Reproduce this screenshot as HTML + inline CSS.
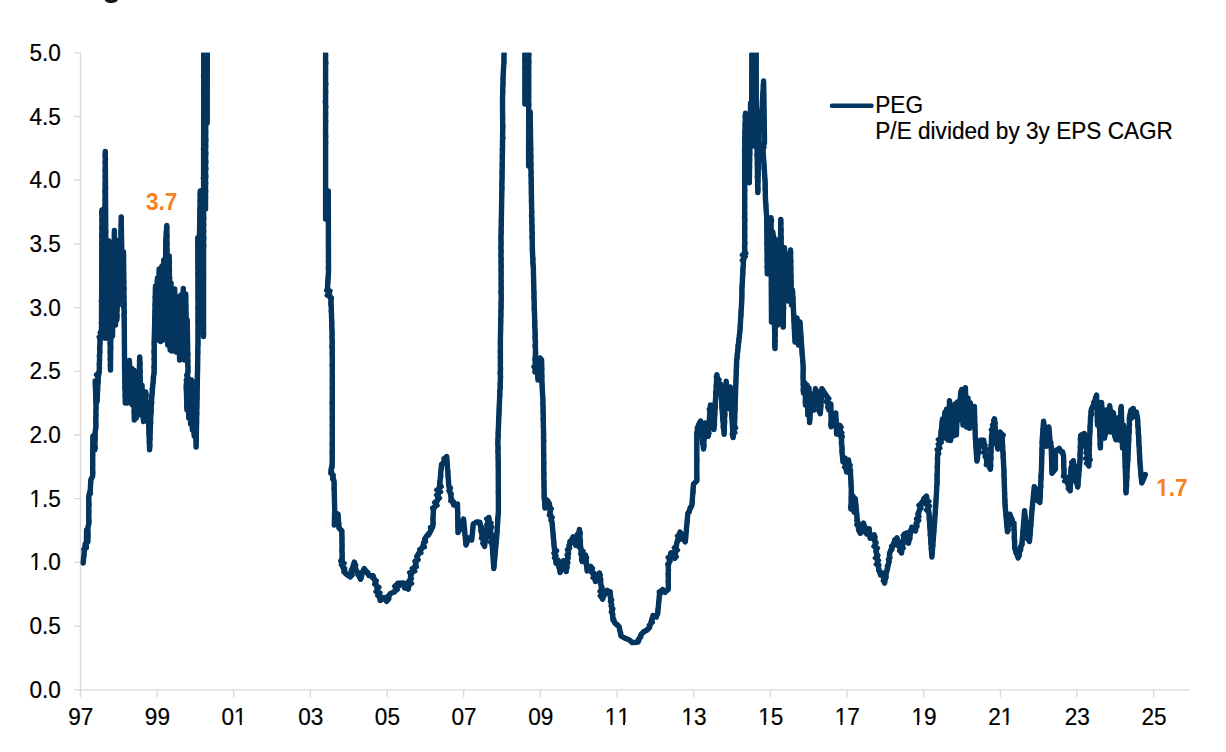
<!DOCTYPE html>
<html><head><meta charset="utf-8"><title>PEG</title>
<style>
html,body{margin:0;padding:0;background:#fff;}
body{width:1226px;height:752px;overflow:hidden;}
svg{display:block}
text{font-family:"Liberation Sans",Arial,Helvetica,sans-serif;font-kerning:none;}
.t{font-size:22.6px;fill:#000;stroke:#000;stroke-width:0.2px}
.o{font-size:22.6px;font-weight:bold;fill:#f5821f}
.fb{font-weight:normal;stroke:#f5821f;stroke-width:1.25px;stroke-linejoin:round}
.ttl{font-size:30px;font-weight:bold;fill:#111}
</style></head><body>
<svg width="1226" height="752" viewBox="0 0 1226 752">
<defs><clipPath id="c"><rect x="70" y="52.8" width="1140" height="640"/></clipPath><clipPath id="k0"><path clip-rule="evenodd" d="M24.4 540.4H65.8V580.4H24.4ZM29.39 568.09H35.11V573.4H29.39ZM37.00 568.09H41.93V573.4H37.00Z"/></clipPath><clipPath id="k1"><path clip-rule="evenodd" d="M24.4 476.7H65.8V516.7H24.4ZM29.39 504.39H35.11V509.7H29.39ZM37.00 504.39H41.93V509.7H37.00Z"/></clipPath><clipPath id="k2"><path clip-rule="evenodd" d="M216.5 694.9H251.6V734.9H216.5ZM234.07 722.59H239.79V727.9H234.07ZM241.68 722.59H246.61V727.9H241.68Z"/></clipPath><clipPath id="k3"><path clip-rule="evenodd" d="M599.8 694.9H634.9V734.9H599.8ZM604.80 722.59H610.53V727.9H604.80ZM612.42 722.59H617.35V727.9H612.42ZM617.37 722.59H623.09V727.9H617.37ZM624.98 722.59H629.91V727.9H624.98Z"/></clipPath><clipPath id="k4"><path clip-rule="evenodd" d="M676.5 694.9H711.6V734.9H676.5ZM681.46 722.59H687.19V727.9H681.46ZM689.08 722.59H694.01V727.9H689.08Z"/></clipPath><clipPath id="k5"><path clip-rule="evenodd" d="M753.1 694.9H788.3V734.9H753.1ZM758.12 722.59H763.85V727.9H758.12ZM765.74 722.59H770.67V727.9H765.74Z"/></clipPath><clipPath id="k6"><path clip-rule="evenodd" d="M829.8 694.9H864.9V734.9H829.8ZM834.78 722.59H840.51V727.9H834.78ZM842.40 722.59H847.33V727.9H842.40Z"/></clipPath><clipPath id="k7"><path clip-rule="evenodd" d="M906.4 694.9H941.6V734.9H906.4ZM911.44 722.59H917.17V727.9H911.44ZM919.06 722.59H923.99V727.9H919.06Z"/></clipPath><clipPath id="k8"><path clip-rule="evenodd" d="M983.1 694.9H1018.2V734.9H983.1ZM1000.67 722.59H1006.39V727.9H1000.67ZM1008.28 722.59H1013.21V727.9H1008.28Z"/></clipPath><clipPath id="k9"><path clip-rule="evenodd" d="M1151.2 465.8H1192.6V505.8H1151.2ZM1155.75 492.84H1161.52V498.8H1155.75ZM1164.51 492.84H1169.31V498.8H1164.51Z"/></clipPath></defs>
<text x="102.5" y="-3.2" class="ttl">g</text>
<path d="M80.5 52.8V689.8M74.2 689.8H1190M74.2 689.8H80.5M74.2 626.1H80.5M74.2 562.4H80.5M74.2 498.7H80.5M74.2 435.0H80.5M74.2 371.3H80.5M74.2 307.6H80.5M74.2 243.9H80.5M74.2 180.2H80.5M74.2 116.5H80.5M74.2 52.8H80.5M80.5 689.8V697.3M157.1 689.8V697.3M233.8 689.8V697.3M310.4 689.8V697.3M387.1 689.8V697.3M463.7 689.8V697.3M540.4 689.8V697.3M617.1 689.8V697.3M693.7 689.8V697.3M770.4 689.8V697.3M847.0 689.8V697.3M923.7 689.8V697.3M1000.4 689.8V697.3M1077.0 689.8V697.3M1153.7 689.8V697.3" fill="none" stroke="#d9d9d9" stroke-width="1.3"/>
<text transform="translate(60.8 697.8) scale(1 1.08)" text-anchor="end" class="t">0.0</text>
<text transform="translate(60.8 634.1) scale(1 1.08)" text-anchor="end" class="t">0.5</text>
<g clip-path="url(#k0)"><text transform="translate(60.8 570.4) scale(1 1.08)" text-anchor="end" class="t">1.0</text></g>
<g clip-path="url(#k1)"><text transform="translate(60.8 506.7) scale(1 1.08)" text-anchor="end" class="t">1.5</text></g>
<text transform="translate(60.8 443.0) scale(1 1.08)" text-anchor="end" class="t">2.0</text>
<text transform="translate(60.8 379.3) scale(1 1.08)" text-anchor="end" class="t">2.5</text>
<text transform="translate(60.8 315.6) scale(1 1.08)" text-anchor="end" class="t">3.0</text>
<text transform="translate(60.8 251.9) scale(1 1.08)" text-anchor="end" class="t">3.5</text>
<text transform="translate(60.8 188.2) scale(1 1.08)" text-anchor="end" class="t">4.0</text>
<text transform="translate(60.8 124.5) scale(1 1.08)" text-anchor="end" class="t">4.5</text>
<text transform="translate(60.8 60.8) scale(1 1.08)" text-anchor="end" class="t">5.0</text>
<text transform="translate(80.8 724.9) scale(1 1.08)" text-anchor="middle" class="t">97</text>
<text transform="translate(157.4 724.9) scale(1 1.08)" text-anchor="middle" class="t">99</text>
<g clip-path="url(#k2)"><text transform="translate(234.1 724.9) scale(1 1.08)" text-anchor="middle" class="t">01</text></g>
<text transform="translate(310.7 724.9) scale(1 1.08)" text-anchor="middle" class="t">03</text>
<text transform="translate(387.4 724.9) scale(1 1.08)" text-anchor="middle" class="t">05</text>
<text transform="translate(464.0 724.9) scale(1 1.08)" text-anchor="middle" class="t">07</text>
<text transform="translate(540.7 724.9) scale(1 1.08)" text-anchor="middle" class="t">09</text>
<g clip-path="url(#k3)"><text transform="translate(617.4 724.9) scale(1 1.08)" text-anchor="middle" class="t">11</text></g>
<g clip-path="url(#k4)"><text transform="translate(694.0 724.9) scale(1 1.08)" text-anchor="middle" class="t">13</text></g>
<g clip-path="url(#k5)"><text transform="translate(770.7 724.9) scale(1 1.08)" text-anchor="middle" class="t">15</text></g>
<g clip-path="url(#k6)"><text transform="translate(847.3 724.9) scale(1 1.08)" text-anchor="middle" class="t">17</text></g>
<g clip-path="url(#k7)"><text transform="translate(924.0 724.9) scale(1 1.08)" text-anchor="middle" class="t">19</text></g>
<g clip-path="url(#k8)"><text transform="translate(1000.7 724.9) scale(1 1.08)" text-anchor="middle" class="t">21</text></g>
<text transform="translate(1077.3 724.9) scale(1 1.08)" text-anchor="middle" class="t">23</text>
<text transform="translate(1154.0 724.9) scale(1 1.08)" text-anchor="middle" class="t">25</text>
<g clip-path="url(#c)" fill="none" stroke="#03355f" stroke-width="4.5" stroke-linejoin="round" stroke-linecap="round">
<polyline points="83.2,563.0 83.2,558.5 84.3,555.5 84.2,552.0 83.4,549.0 85.9,547.2 85.2,544.0 86.3,548.0 86.0,544.0 86.7,540.0 86.2,537.8 86.8,534.4 86.6,530.0 87.5,531.5 86.4,535.5 88.3,537.1 86.6,539.3 87.9,542.0 87.4,537.6 88.3,535.0 87.7,530.3 88.0,527.0 88.8,524.0 89.3,520.2 88.2,516.9 89.3,512.1 88.3,508.8 89.5,504.4 88.4,499.2 88.8,496.0 90.9,493.8 90.3,490.0 90.3,484.5 90.8,480.0 92.7,476.0 93.1,472.1 92.4,468.7 92.9,464.1 92.5,459.2 93.0,455.3 92.7,452.0 92.6,447.4 93.1,443.1 92.7,439.5 93.0,436.0 92.5,438.1 94.6,441.0 93.2,444.4 95.8,447.2 94.8,450.0 95.2,447.0 94.3,443.2 95.6,438.4 94.6,434.9 95.2,432.0 95.8,428.0 96.2,424.7 95.4,420.5 96.2,415.4 95.6,412.6 96.3,408.5 96.0,404.0 95.3,400.0 96.3,396.8 95.4,392.6 95.7,388.9 95.2,385.1 95.2,381.0 95.1,385.5 96.3,388.7 96.2,394.4 97.0,396.9 97.0,402.0 97.6,397.6 96.9,394.7 98.0,389.3 97.4,385.5 98.5,381.7 98.2,378.0 96.0,374.7 99.2,372.0 100.0,367.9 98.9,363.8 99.9,359.8 98.9,355.6 100.3,351.9 99.1,348.7 100.3,343.8 100.0,340.0 98.7,336.9 103.2,334.6 99.8,332.7 101.5,330.0 102.0,327.0 100.9,322.8 102.1,318.8 101.1,314.9 102.3,312.0 101.1,308.8 102.3,303.9 100.9,301.3 102.1,297.7 101.3,293.4 102.0,289.4 101.2,287.1 102.2,283.6 101.2,279.4 102.1,276.1 101.4,271.2 102.1,269.0 101.3,264.3 102.4,260.1 101.3,257.3 102.2,253.7 101.4,250.4 102.4,246.3 101.2,242.9 102.6,239.8 101.2,236.1 102.5,231.1 101.4,227.5 102.7,224.6 101.5,220.5 102.6,216.9 101.3,212.8 102.0,210.0 101.4,214.2 102.7,218.0 101.7,220.9 102.7,224.7 101.7,227.6 102.5,231.8 101.8,235.1 102.9,240.0 101.5,243.1 102.7,246.3 101.8,250.9 102.9,254.7 101.9,257.6 103.1,260.9 101.7,265.2 102.9,268.9 101.9,271.7 103.1,276.0 102.0,279.8 103.0,283.6 101.9,288.0 103.1,290.2 102.1,295.3 103.1,297.7 102.1,301.3 103.2,305.0 102.2,308.9 103.3,312.2 102.5,316.6 103.3,320.3 102.5,323.8 103.3,327.1 102.4,331.4 103.0,335.0 102.4,330.7 103.7,327.2 102.6,324.4 103.6,319.5 102.7,317.2 103.7,313.9 102.7,309.0 103.7,305.5 103.0,301.9 103.9,299.2 102.8,294.9 103.8,292.0 103.1,287.5 103.9,284.6 103.2,279.7 104.1,277.4 103.1,273.1 104.0,269.4 103.2,265.6 104.0,261.5 103.5,258.0 103.9,255.4 103.6,250.5 104.1,246.9 103.5,243.7 104.3,239.7 103.5,236.1 104.3,233.1 103.4,228.9 104.6,225.8 104.0,222.0 104.4,225.3 103.7,229.0 104.7,232.4 103.4,236.2 104.7,240.2 103.4,244.0 104.8,248.2 103.6,251.4 104.5,253.8 103.9,257.5 104.5,262.0 103.8,265.6 104.6,269.7 103.9,273.2 104.5,275.8 104.1,280.0 104.4,284.4 104.0,287.4 104.5,291.2 104.1,294.9 104.5,297.7 104.2,302.2 104.6,305.8 104.1,309.8 104.7,312.5 104.1,315.8 104.7,320.3 104.1,324.1 104.6,327.3 104.3,329.9 104.7,334.3 104.5,338.0 104.8,334.8 104.2,330.2 105.0,326.2 104.2,324.1 105.1,319.5 104.2,315.7 105.1,312.2 104.2,309.2 105.4,304.4 104.3,301.8 105.2,298.5 104.4,294.9 105.2,290.2 104.3,287.3 105.2,282.5 104.5,278.9 105.2,276.4 104.5,271.6 105.1,267.6 104.5,264.4 105.2,261.4 104.5,258.3 105.1,253.9 104.6,249.7 105.1,246.3 104.7,242.5 105.2,239.9 104.7,235.8 105.2,231.8 104.5,227.5 105.4,225.0 104.8,220.2 105.3,217.6 104.7,213.9 105.3,209.9 104.7,205.7 105.4,202.2 104.7,199.9 105.6,195.3 104.5,191.2 105.6,187.6 104.9,184.0 105.5,180.5 104.8,176.8 105.5,173.0 104.8,170.0 105.6,165.8 105.0,162.1 105.7,159.0 104.8,154.5 105.3,151.5 104.7,155.9 106.0,158.9 104.7,162.3 105.8,166.6 104.9,169.2 105.9,173.1 105.0,176.8 106.0,181.2 105.2,184.3 106.0,187.2 105.3,191.2 105.8,195.6 105.4,198.6 105.8,202.4 105.3,206.3 105.9,210.8 105.4,214.5 105.8,216.5 105.3,220.8 106.0,224.2 105.2,227.8 106.1,231.7 105.3,235.8 106.0,238.9 105.4,243.0 106.2,246.2 105.6,250.7 106.1,254.5 105.6,257.1 106.2,261.2 105.4,265.0 106.3,269.0 105.4,271.4 106.4,275.9 105.6,280.1 106.4,282.4 105.6,287.2 106.5,289.7 105.7,295.0 106.6,296.9 105.6,301.0 106.5,304.2 105.5,308.2 106.7,312.2 105.7,315.8 106.8,319.3 105.7,323.1 106.8,327.4 105.6,330.0 106.6,334.7 106.3,338.0 106.7,334.5 105.8,331.3 106.8,327.5 106.1,322.4 107.0,319.1 105.9,315.9 107.1,312.8 106.1,307.4 107.3,304.3 106.4,301.1 107.1,297.3 106.3,292.8 107.3,289.2 106.3,286.2 107.4,281.8 106.4,278.1 107.5,274.0 106.6,271.8 107.7,267.0 106.6,263.8 107.6,259.0 106.8,256.1 107.7,252.9 106.7,248.1 107.4,245.0 107.1,249.3 108.0,252.0 106.9,255.6 107.9,259.0 107.0,264.4 108.0,267.6 107.2,271.2 108.0,274.2 107.3,278.3 108.2,282.2 107.2,285.6 108.2,289.9 107.2,293.5 108.3,297.3 107.3,301.3 108.6,305.1 107.4,308.1 108.7,312.0 107.5,316.4 108.4,319.8 107.4,323.3 108.6,327.0 107.8,330.5 108.6,333.5 108.2,338.0 108.7,334.7 107.8,331.0 108.7,326.0 107.8,323.2 108.7,318.9 107.7,316.3 108.8,311.8 108.0,308.6 108.9,305.2 107.7,300.9 109.0,297.8 107.9,293.6 109.1,288.6 108.2,286.1 109.2,282.6 108.0,278.4 109.2,273.7 108.2,271.4 109.0,267.8 108.2,262.7 109.3,260.3 108.0,256.0 109.1,252.5 108.3,249.0 109.3,244.2 108.8,241.0 109.3,245.4 108.5,248.0 109.6,251.6 108.6,256.6 109.6,259.5 108.6,262.7 109.6,266.1 108.8,270.0 109.5,273.6 108.8,277.0 109.8,281.3 108.9,284.7 110.0,288.7 108.9,292.6 110.2,296.6 108.9,299.4 110.1,303.8 109.2,307.8 110.4,310.5 109.3,314.9 110.2,318.6 109.3,322.8 110.3,324.9 109.5,329.4 110.5,332.4 109.5,336.9 110.6,339.9 109.8,343.9 110.8,347.5 109.8,352.2 110.7,354.6 109.7,359.5 110.8,362.4 110.0,365.5 110.5,370.0 110.1,365.4 110.8,362.1 110.4,358.2 110.8,355.5 110.5,352.3 111.1,347.3 110.5,343.9 111.0,339.5 110.6,335.7 111.0,333.1 110.6,329.5 111.3,325.3 110.5,322.0 111.4,317.6 110.6,314.9 111.4,311.2 110.7,307.3 111.6,302.9 110.7,299.7 111.6,296.1 111.0,292.7 111.4,287.6 111.0,284.9 111.6,281.2 111.0,276.5 111.5,273.8 111.1,270.2 111.7,266.9 111.2,263.2 111.7,259.6 111.5,255.0 111.8,258.8 111.3,261.9 111.9,265.4 111.5,270.1 111.9,274.1 111.6,276.8 112.0,279.9 111.6,285.0 112.2,288.4 111.6,292.2 112.7,296.2 111.5,298.4 112.5,302.1 111.8,306.5 112.5,310.0 112.0,314.2 112.5,317.3 112.1,321.4 112.7,325.3 112.2,328.4 112.7,331.5 112.5,336.0 112.8,332.4 112.4,329.6 113.0,325.0 112.5,322.0 113.1,317.0 112.7,313.4 113.3,310.3 112.8,307.3 113.5,303.5 112.8,300.3 113.6,296.2 112.8,292.9 113.9,289.2 113.0,285.3 113.8,281.2 113.2,277.7 114.2,274.5 113.2,270.8 114.2,266.6 113.1,263.8 114.4,259.5 113.5,255.5 114.5,252.8 113.7,248.7 114.4,245.8 113.8,242.1 114.6,237.8 114.1,233.5 114.4,230.5 114.3,234.2 114.8,238.2 114.3,241.1 114.8,245.7 114.3,248.5 115.0,252.9 114.4,255.7 115.1,259.0 114.4,264.0 115.2,267.2 114.4,270.3 115.6,273.3 114.5,276.9 115.6,282.3 114.6,284.2 115.5,288.4 114.7,292.9 115.5,296.1 114.7,299.4 115.7,303.7 115.0,306.1 115.7,310.4 115.0,313.2 115.7,318.0 115.2,321.3 115.5,325.0 115.3,322.1 115.9,317.8 115.4,313.8 115.9,309.3 115.4,305.7 116.0,302.4 115.4,299.1 116.4,294.1 115.3,290.8 116.1,288.1 115.7,284.0 116.3,280.0 115.8,275.4 116.3,271.9 115.8,268.9 116.6,264.5 115.8,260.4 116.7,258.0 115.9,253.6 116.3,250.0 115.9,253.5 117.0,257.1 115.9,260.7 116.9,264.0 115.8,267.9 117.1,272.4 116.1,275.1 116.9,278.6 116.1,282.8 117.2,286.3 116.1,291.0 117.2,294.1 116.2,297.7 117.1,301.2 115.9,304.9 117.2,309.8 116.3,312.4 117.1,316.5 116.8,320.0 117.5,316.1 116.3,313.3 117.6,309.0 116.5,305.3 117.6,301.3 116.8,297.5 117.7,293.8 116.8,290.3 118.0,286.9 116.6,283.0 117.9,278.3 117.0,274.8 118.3,271.1 117.6,268.0 118.3,272.6 117.2,275.8 118.4,279.0 117.4,282.3 118.4,285.7 117.7,290.2 118.6,294.5 117.9,298.3 118.8,301.1 118.5,305.0 118.8,301.7 118.1,298.5 119.0,293.5 118.2,291.3 119.2,286.7 118.2,283.9 119.4,280.6 118.5,275.9 119.5,272.2 118.8,268.5 119.4,266.0 118.6,261.9 119.8,257.7 118.8,254.8 119.7,250.6 118.8,247.4 119.9,242.8 119.5,240.0 120.0,243.3 119.2,248.1 120.1,251.5 119.2,254.7 120.1,258.6 119.4,262.0 120.1,265.8 119.4,269.4 120.0,274.3 119.6,277.1 120.3,281.2 119.7,285.5 120.2,288.3 119.6,292.0 120.0,296.0 119.5,293.1 120.5,288.7 119.8,284.4 120.8,280.1 119.8,276.6 121.0,272.5 119.9,269.8 120.9,265.0 120.1,262.8 121.0,259.1 120.3,254.4 121.0,250.3 120.2,247.8 121.1,242.7 120.2,240.4 121.4,235.8 120.5,232.4 121.3,228.2 120.9,224.5 121.5,221.2 121.2,217.0 121.4,220.3 121.1,224.5 121.6,229.0 121.1,232.2 121.8,236.5 121.2,238.8 121.9,243.9 121.5,247.3 121.9,250.6 121.4,255.4 122.1,257.8 121.8,263.1 122.2,266.4 121.6,270.0 122.5,273.5 121.9,277.0 122.5,281.2 122.3,285.0 122.6,281.4 122.3,278.4 122.9,274.2 122.7,270.6 123.2,267.2 122.8,263.9 123.5,260.2 123.0,255.9 123.5,252.0 123.2,255.4 123.9,259.1 123.3,263.6 123.8,266.4 123.4,270.4 124.0,273.9 123.5,278.9 124.2,281.4 123.2,285.7 124.4,288.3 123.5,293.6 124.3,297.3 123.4,299.4 124.6,304.3 123.3,307.0 124.7,311.9 123.6,315.0 124.6,319.3 124.0,323.2 124.7,325.6 124.3,330.0 124.1,334.5 124.7,336.7 124.1,341.5 124.7,344.5 124.2,348.0 124.8,351.8 124.2,356.0 124.8,358.5 124.3,362.5 124.8,366.5 124.6,370.0 124.5,373.8 125.0,377.5 124.4,380.7 125.2,384.2 124.5,387.9 125.4,391.8 124.8,395.9 125.7,400.1 125.3,403.0 125.8,399.6 125.3,395.6 126.1,391.0 125.3,387.8 126.6,383.2 125.8,379.2 126.7,375.8 126.5,372.0 127.0,376.3 126.1,380.5 127.4,384.4 126.5,388.2 127.6,390.9 126.8,394.8 127.7,398.5 127.5,403.0 127.9,399.6 127.4,394.7 128.1,391.0 127.6,387.4 128.4,383.3 127.8,381.0 128.6,375.9 127.9,372.8 129.0,368.8 128.5,365.0 129.4,360.5 129.9,363.9 129.2,369.0 130.1,372.8 129.3,375.3 130.4,380.5 129.5,382.9 130.5,388.4 129.7,391.9 130.6,395.3 130.1,398.9 130.5,403.0 130.4,398.7 131.0,396.0 130.5,390.5 131.2,387.8 130.8,382.8 131.7,378.9 130.6,376.6 131.9,371.6 131.5,368.0 132.2,372.5 131.3,376.2 132.0,379.8 131.6,382.0 132.5,386.5 131.5,390.8 132.5,394.4 131.7,397.5 132.8,400.4 132.5,405.0 133.1,401.0 132.3,396.9 133.3,392.7 132.6,389.9 133.6,385.9 132.7,382.1 133.6,377.1 133.1,374.2 133.5,370.0 133.3,374.2 133.9,376.9 133.4,381.0 134.2,385.1 133.4,390.1 134.1,393.6 133.6,397.5 134.3,400.9 133.7,405.2 134.4,408.2 133.9,411.7 134.5,417.0 134.3,420.0 134.7,415.5 134.2,411.8 134.7,408.6 134.3,404.4 135.0,402.2 134.4,398.6 135.0,395.0 134.7,391.1 135.2,386.7 134.8,382.3 135.3,380.2 135.0,374.9 135.3,372.0 135.2,375.5 135.7,380.2 135.2,383.7 136.0,386.8 134.9,390.3 136.3,394.2 135.4,399.3 136.2,402.2 135.5,406.8 136.4,409.5 135.8,413.7 136.2,418.0 135.8,414.2 136.8,410.6 135.8,406.7 137.0,403.0 136.1,398.1 137.3,395.7 135.9,391.6 137.3,387.9 136.5,382.8 137.3,379.5 137.0,376.0 137.5,379.8 136.6,383.4 137.7,386.9 136.9,391.1 137.8,394.8 137.1,398.3 137.9,403.0 137.4,406.8 137.8,410.0 137.7,405.8 138.4,400.9 138.1,397.9 138.8,393.6 138.5,388.6 138.8,385.0 139.4,380.3 138.7,376.6 139.7,373.6 138.9,369.4 139.9,365.0 139.0,360.8 139.8,357.0 139.1,360.9 140.5,363.5 139.3,367.5 140.7,372.0 139.5,374.5 140.7,379.4 139.7,383.1 141.2,386.2 139.9,389.4 140.9,393.8 140.2,397.4 141.1,400.2 140.5,404.4 141.4,407.4 140.2,411.0 141.0,415.0 140.5,410.4 141.7,407.9 140.8,404.6 142.1,400.1 141.1,396.8 142.2,392.8 141.5,389.0 142.0,385.0 141.5,388.9 142.7,391.8 141.8,395.3 143.1,400.1 142.3,404.1 143.4,407.0 142.4,410.0 143.6,413.6 142.9,418.3 143.5,421.5 143.2,416.7 144.6,413.0 143.7,408.6 145.1,405.1 144.6,400.0 143.5,396.8 146.6,395.0 145.7,392.0 146.4,395.4 145.4,399.5 146.5,402.2 145.9,405.6 146.6,410.1 146.3,414.4 146.9,417.0 146.8,421.0 147.3,417.4 147.1,413.0 148.0,408.3 148.0,405.0 148.4,409.1 148.1,412.3 148.6,416.4 148.4,420.4 148.9,424.3 148.6,428.1 149.3,430.9 148.6,434.4 149.8,438.8 148.9,442.5 150.0,446.0 149.6,449.7 150.2,445.6 149.5,441.8 150.3,439.1 149.6,435.4 150.5,431.0 149.7,427.6 151.1,423.3 150.6,420.0 150.2,416.4 151.6,412.0 150.8,407.5 152.1,403.2 151.6,400.0 151.4,396.2 152.6,392.3 151.8,389.1 152.8,385.0 153.6,381.9 152.9,377.4 154.5,373.0 154.2,370.0 153.6,367.0 154.8,362.2 153.7,359.2 154.8,355.9 153.6,351.9 154.8,346.7 153.9,344.4 154.2,340.0 154.7,334.6 154.5,330.0 154.4,326.0 155.0,322.0 154.5,318.6 155.1,315.8 154.7,311.8 155.3,307.8 154.7,304.8 155.5,299.8 154.8,297.1 156.0,293.0 155.1,289.3 155.5,286.0 155.2,290.4 155.9,292.9 155.5,297.5 156.1,300.9 155.7,303.8 156.2,308.5 155.8,311.3 156.3,315.1 155.9,319.8 156.4,322.8 156.1,326.6 156.5,330.1 156.2,334.5 156.5,338.0 156.4,333.6 156.8,330.8 156.3,326.5 157.2,323.0 156.5,319.2 157.2,315.4 156.4,312.2 157.2,308.8 156.7,304.6 157.5,299.9 156.8,296.3 157.5,292.9 156.8,288.5 157.7,286.0 156.8,281.7 157.5,278.0 156.9,281.7 158.0,286.2 157.3,288.7 158.1,292.7 157.2,296.7 158.4,299.3 157.1,303.9 158.4,307.2 157.4,311.1 158.2,314.7 157.8,318.6 158.4,321.9 157.9,325.0 158.5,329.5 158.1,333.2 158.4,335.5 158.3,340.0 158.6,335.4 158.2,331.9 158.7,328.6 158.3,324.9 158.9,321.8 158.3,317.6 159.0,314.2 158.0,310.9 159.1,306.8 158.1,301.8 159.4,299.1 158.3,295.9 159.4,291.4 158.7,286.8 159.4,284.6 158.5,280.8 159.6,276.0 158.8,273.3 159.2,269.0 158.9,273.3 159.7,276.2 158.9,280.3 160.1,282.7 159.1,286.5 160.0,291.4 159.4,293.6 160.3,298.7 159.5,301.2 160.1,304.7 159.7,308.3 160.4,311.9 159.7,315.9 160.4,320.0 160.0,322.5 160.7,326.8 159.8,330.0 160.9,334.0 160.0,337.1 160.6,341.5 160.3,337.3 161.3,333.2 160.5,329.5 161.2,325.5 160.3,322.9 161.7,318.1 160.4,314.2 161.8,310.5 160.8,307.4 161.8,304.5 161.0,300.3 161.8,296.3 160.8,292.8 162.1,289.2 161.2,284.8 162.1,282.0 161.4,277.7 162.4,274.3 161.5,269.8 162.0,266.0 161.3,270.5 162.6,273.2 161.6,277.0 162.6,281.3 161.8,284.7 162.6,288.0 161.9,292.0 163.0,294.8 162.2,299.2 163.0,303.1 162.1,306.0 163.0,309.9 162.3,313.3 163.0,318.0 162.3,320.8 163.5,325.9 162.2,329.6 163.7,332.2 162.3,336.3 163.0,340.0 162.6,336.8 163.6,332.7 162.8,328.9 163.7,324.9 162.8,321.8 163.6,317.4 162.8,314.6 163.8,311.7 163.1,306.9 163.6,303.8 163.0,300.1 163.7,295.7 163.3,292.0 163.7,289.7 163.2,286.2 163.9,281.9 163.4,277.4 163.9,274.0 163.5,270.6 164.0,266.8 163.6,263.4 163.8,260.0 163.6,264.5 164.1,266.7 163.5,271.4 164.3,275.6 163.7,278.6 164.3,283.1 163.8,286.1 164.4,290.2 163.8,293.3 164.7,297.1 164.0,300.3 164.7,304.8 163.9,307.7 164.9,311.3 163.8,315.9 165.0,320.1 163.9,323.4 165.0,326.6 164.0,330.3 165.3,334.6 164.6,338.0 165.2,334.1 164.2,331.5 165.5,327.5 164.4,324.1 165.5,320.6 164.3,316.7 165.4,312.6 164.5,309.1 165.5,306.2 164.5,302.0 165.4,298.8 164.6,295.3 165.7,291.1 164.9,287.4 165.7,282.8 164.7,280.6 165.8,276.2 165.1,272.8 166.0,268.9 164.9,264.9 166.1,261.3 165.1,258.1 166.2,254.1 165.1,250.4 166.1,247.9 165.4,242.8 165.8,240.0 166.4,236.4 166.0,232.2 167.1,228.5 166.8,225.4 167.1,228.3 166.6,232.2 167.4,236.6 166.5,239.4 167.3,243.8 166.7,246.6 167.3,249.9 166.5,254.2 167.5,258.9 166.8,262.2 167.4,264.6 166.9,269.6 167.6,271.8 166.9,276.4 167.7,279.6 166.9,283.2 167.8,287.4 167.0,290.0 167.6,294.0 167.2,297.8 167.8,300.7 167.2,304.8 167.7,309.4 167.3,311.7 167.8,315.5 167.2,318.9 167.8,323.7 167.4,326.8 167.9,331.0 167.4,334.9 168.1,338.5 167.5,340.8 167.8,345.0 167.6,341.6 168.3,337.3 167.7,333.2 168.2,330.6 167.9,325.7 168.4,323.5 167.9,319.3 168.4,316.1 168.1,311.8 168.6,308.8 168.2,304.2 168.7,301.3 168.4,297.5 168.8,294.0 168.4,289.5 168.9,286.4 168.4,282.0 169.3,278.3 168.4,273.8 169.5,270.9 168.5,267.1 169.8,264.2 168.5,259.5 169.2,256.0 168.8,259.6 170.0,262.6 168.9,267.3 170.0,270.1 169.0,273.6 170.2,278.2 169.1,281.7 169.9,285.7 169.1,288.5 170.0,292.8 169.2,295.7 170.2,298.7 169.2,303.0 170.2,307.4 169.1,310.8 170.2,313.8 169.3,317.2 170.4,320.2 169.6,325.1 170.4,327.8 169.4,332.6 170.4,336.4 169.4,339.1 170.8,342.8 169.6,346.7 170.2,350.0 169.7,346.9 170.7,343.1 169.6,338.1 171.1,334.5 170.0,331.0 171.2,328.5 170.0,324.0 171.3,320.3 170.0,316.1 171.2,313.6 170.0,308.5 171.2,305.4 170.2,302.3 171.2,298.4 170.5,294.3 171.5,290.1 170.6,286.5 171.0,283.0 170.6,286.5 171.3,290.8 170.9,295.1 171.4,298.7 170.7,302.8 171.5,305.9 170.8,309.7 171.6,313.8 170.8,317.2 172.0,321.7 170.8,324.4 171.8,328.1 171.1,331.7 171.9,335.5 171.2,339.8 172.2,343.1 171.2,347.3 171.7,351.0 171.4,347.7 172.4,343.7 171.5,339.9 172.4,336.6 171.5,332.2 172.9,328.5 171.9,324.7 173.1,321.0 172.0,317.6 172.9,313.3 172.2,309.6 173.0,306.5 172.4,303.4 173.2,299.1 172.2,295.0 173.0,292.0 172.6,296.2 173.6,298.5 172.7,302.2 173.7,305.6 173.0,310.8 173.9,313.6 172.9,316.6 174.1,321.3 173.1,325.0 174.0,328.4 173.4,331.5 174.1,335.2 173.5,338.6 174.2,343.2 173.6,345.6 174.0,350.0 173.9,346.0 174.5,342.7 173.9,339.2 174.4,334.9 173.9,331.3 174.6,327.8 174.1,322.6 174.6,320.0 174.1,315.3 174.6,311.0 174.1,308.0 174.7,303.5 174.4,301.3 174.9,297.4 174.4,292.9 174.7,289.0 174.4,292.0 175.1,296.3 174.6,300.7 175.3,304.3 174.8,307.6 175.5,311.6 175.1,314.9 175.5,317.9 175.1,321.5 175.8,326.7 175.3,330.6 175.9,334.3 175.5,336.5 176.0,341.1 175.7,344.8 176.1,348.5 176.0,352.0 176.4,347.8 176.0,345.3 176.4,340.3 176.0,337.3 176.9,333.1 176.1,330.3 177.0,326.4 176.3,322.8 177.5,318.6 176.1,315.7 177.4,311.4 176.4,308.6 177.5,304.4 176.8,300.1 177.3,297.0 178.4,301.0 177.8,304.6 178.9,308.9 178.1,311.4 179.1,315.1 178.4,318.8 179.4,323.8 178.5,326.4 179.6,330.8 178.7,333.7 179.9,338.7 178.7,340.8 179.9,346.0 179.0,348.1 179.9,353.3 179.3,356.5 179.6,360.0 179.4,355.6 180.0,352.6 179.5,349.6 180.3,344.9 179.6,341.8 180.3,338.7 180.0,334.5 180.4,330.6 180.0,327.9 180.7,323.3 180.1,320.1 181.0,316.5 180.3,312.9 181.0,308.8 180.4,306.7 181.2,301.6 180.6,298.4 181.0,295.0 180.7,298.8 181.4,301.7 180.7,306.9 181.6,309.9 181.1,314.1 181.5,316.8 181.2,320.2 181.7,324.9 181.2,328.3 181.8,332.0 181.4,336.2 182.2,339.7 181.3,342.8 182.1,347.3 181.6,351.4 182.5,355.2 182.0,358.0 182.6,355.1 181.7,350.3 182.7,347.2 181.7,343.1 182.9,339.6 182.0,335.7 183.0,332.4 182.2,329.0 182.9,325.7 182.5,321.4 183.1,317.1 182.5,313.4 183.2,310.5 182.8,306.9 183.3,303.1 182.8,298.9 183.5,295.0 182.9,292.1 183.3,288.5 183.1,292.5 183.8,295.4 183.1,299.7 183.9,303.8 183.1,307.9 184.1,311.2 183.5,315.2 184.1,318.2 183.6,323.0 184.3,326.3 183.6,330.0 184.6,332.9 183.7,336.6 184.7,340.3 183.8,345.6 184.6,347.8 184.1,352.5 184.9,356.9 184.5,360.0 185.1,356.0 184.3,352.7 185.0,349.0 184.6,344.8 185.1,342.4 184.7,338.0 185.2,334.0 184.7,329.8 185.4,327.1 185.0,324.1 185.4,320.5 185.1,316.5 185.6,312.4 185.2,307.8 185.7,304.9 185.2,300.8 185.9,298.4 185.7,294.0 186.0,297.1 185.6,302.1 186.2,305.7 185.7,308.6 186.2,312.5 185.7,315.5 186.4,319.3 185.9,323.1 186.5,327.2 185.9,330.0 186.7,334.4 186.0,337.8 186.7,340.9 186.5,345.0 186.9,340.9 186.5,336.4 187.0,333.2 186.7,327.5 187.2,323.7 187.2,320.0 187.5,324.2 187.1,327.9 187.6,331.2 187.0,334.9 187.7,338.0 187.2,342.2 187.9,346.3 187.3,349.8 188.3,354.0 187.2,357.2 188.1,361.1 187.5,364.7 188.3,367.8 188.0,372.0 186.2,375.1 188.2,377.2 185.8,380.1 188.0,383.0 186.2,385.0 185.9,389.1 186.9,393.9 186.1,397.6 187.0,401.3 186.3,405.2 187.0,410.0 186.5,405.5 187.6,401.3 187.1,397.2 188.0,393.4 187.3,390.7 188.1,385.4 187.6,382.6 188.0,378.0 187.9,381.8 188.4,385.1 187.8,389.0 188.6,392.2 187.9,397.0 188.8,400.6 188.1,403.9 189.2,407.2 188.2,410.7 189.2,413.7 188.8,418.0 189.2,415.1 188.6,410.6 189.6,406.3 188.7,403.1 189.7,398.2 189.0,394.8 189.9,391.6 189.2,388.2 190.0,383.3 189.8,380.0 190.3,383.5 189.3,387.7 190.7,391.8 189.5,393.9 190.6,398.5 189.7,401.2 190.6,406.3 190.0,409.6 190.8,412.8 190.0,416.3 191.1,420.1 190.6,424.0 191.0,420.0 190.4,417.0 191.3,412.7 190.5,410.1 191.4,406.2 190.7,402.8 191.6,399.0 190.8,395.4 191.5,391.4 191.0,387.3 191.6,383.1 191.5,380.0 191.9,383.1 191.4,387.1 192.0,392.3 191.4,395.8 192.2,398.6 191.5,403.4 192.2,406.2 191.7,410.4 192.6,414.2 191.9,417.7 192.7,423.0 191.9,426.2 192.4,430.0 192.2,426.4 192.9,422.3 192.2,419.4 193.0,415.2 192.6,411.1 193.1,407.0 192.6,403.7 193.3,400.7 192.7,396.8 193.5,392.7 192.7,389.0 193.6,384.9 193.3,382.0 193.7,385.6 193.1,388.7 193.9,392.0 193.0,396.7 194.1,399.4 193.3,403.0 194.0,406.6 193.5,411.1 194.1,414.3 193.6,418.3 194.2,422.0 193.9,425.6 194.4,428.1 193.9,432.9 194.2,436.0 193.8,433.1 194.7,429.4 194.2,424.4 194.6,422.2 194.1,417.4 194.8,415.0 194.4,409.7 194.8,406.4 194.5,404.0 195.3,398.8 194.5,395.5 195.4,391.8 194.4,388.7 195.0,385.0 194.6,389.2 195.7,391.9 194.5,395.7 195.7,399.8 194.8,403.6 195.8,407.2 195.0,410.1 196.1,414.3 195.3,418.3 196.3,422.0 195.3,425.1 196.2,428.2 195.6,431.6 196.2,436.2 195.8,439.8 196.2,442.9 196.1,447.0 196.4,443.6 196.0,440.2 196.5,435.7 196.1,432.1 196.8,428.2 196.0,425.6 197.0,422.4 196.5,417.8 197.1,413.9 196.6,411.2 197.0,406.6 196.8,402.7 197.0,400.0 197.3,396.1 196.9,392.0 197.5,387.3 196.9,384.8 197.5,379.5 197.0,375.9 197.5,372.0 197.9,368.0 197.3,363.9 197.9,360.8 197.6,355.2 198.1,352.7 197.6,348.5 198.2,344.2 198.0,340.0 197.8,336.0 198.2,332.2 197.8,329.4 198.4,326.0 197.8,321.8 198.2,318.2 197.8,314.4 198.3,311.7 197.7,307.9 198.3,304.4 198.0,300.0 197.7,296.5 198.2,291.8 197.8,288.9 198.2,285.8 197.7,282.5 198.3,277.5 197.6,274.7 198.4,270.5 197.5,267.5 198.1,263.2 197.5,258.9 198.2,255.8 197.6,252.6 198.0,249.2 197.6,245.1 198.1,240.7 197.8,237.7 198.3,241.1 197.8,244.9 198.7,248.2 198.4,253.0 199.1,256.8 199.0,260.0 199.4,256.0 198.7,252.4 199.7,248.8 198.8,244.7 199.7,241.8 199.0,238.0 199.7,234.4 199.3,231.0 199.9,226.5 199.4,223.5 200.0,220.0 199.3,216.5 200.4,212.2 199.5,209.7 200.7,204.8 199.7,201.2 200.7,197.6 199.8,193.8 200.3,191.0 199.8,195.1 200.8,199.1 199.7,201.3 201.1,206.6 199.9,208.7 200.9,213.2 200.1,216.1 201.1,219.8 199.9,223.9 201.2,227.0 199.9,232.0 201.2,236.0 200.4,239.2 201.1,242.0 200.1,246.4 201.2,249.4 200.1,252.9 201.2,257.2 200.5,260.3 201.5,265.0 200.5,268.6 201.6,272.3 200.2,276.6 201.4,278.7 200.6,283.5 201.4,287.5 200.8,290.6 201.4,294.6 200.9,297.2 201.3,301.2 201.0,305.5 201.5,308.7 200.9,312.4 201.5,316.2 201.3,320.0 201.6,315.8 201.0,313.2 201.7,309.8 201.2,305.8 201.6,301.7 201.3,298.6 201.8,294.2 201.3,291.5 201.9,286.7 201.2,284.5 201.8,280.1 201.5,277.0 201.9,273.1 201.4,269.8 201.9,265.9 201.4,261.4 202.2,257.3 201.6,255.4 202.2,250.3 201.3,247.7 202.6,244.5 201.3,239.5 202.6,237.2 201.5,232.2 202.6,229.0 201.4,225.6 202.6,222.1 201.8,218.4 202.7,214.0 201.9,211.3 202.6,208.0 201.8,204.3 202.3,200.0 201.9,204.1 202.9,206.9 202.1,211.8 202.8,215.3 202.0,219.1 203.0,222.7 201.9,225.6 203.2,230.0 202.2,233.3 203.1,236.0 202.0,241.0 203.2,244.8 202.2,248.3 203.3,251.9 202.4,255.2 203.3,259.5 202.1,263.4 203.6,266.8 202.5,270.1 203.4,273.6 202.8,277.5 203.4,281.4 202.8,284.0 203.4,288.5 202.8,293.0 203.3,296.4 203.0,299.5 203.5,302.6 203.0,306.7 203.5,310.9 203.1,314.5 203.6,317.2 203.0,321.3 203.6,324.9 203.3,329.3 203.8,333.0 203.5,336.5 204.0,333.3 203.0,328.5 204.0,325.9 203.2,322.5 203.9,318.2 203.2,315.4 203.8,310.5 203.1,308.2 203.9,304.4 203.1,300.1 203.8,295.9 203.3,292.3 203.8,289.6 203.3,286.3 203.7,282.0 203.4,278.7 204.0,274.8 203.2,271.5 203.8,268.7 203.4,264.5 203.7,261.4 203.3,256.2 203.8,254.0 203.3,250.4 204.2,245.4 203.1,242.2 204.3,238.1 202.9,235.0 204.2,231.0 203.2,228.2 204.2,224.6 202.9,221.4 204.3,218.2 203.0,213.1 204.0,210.4 203.2,205.9 204.1,203.5 203.3,198.7 204.2,195.0 203.1,191.4 204.1,187.8 203.2,185.6 204.3,181.7 202.9,178.2 204.2,173.7 203.1,170.9 204.3,167.4 203.1,162.4 204.1,160.0 203.1,155.2 204.2,153.1 203.0,149.0 204.2,145.8 203.1,140.9 204.0,138.3 203.3,135.1 204.1,130.0 203.2,126.6 204.3,123.1 203.2,119.9 204.1,115.8 203.3,112.0 204.0,109.6 203.2,105.5 204.3,101.4 203.2,98.1 204.3,94.2 203.1,91.5 204.2,86.9 203.2,83.9 204.4,80.1 203.0,75.9 204.3,73.5 203.3,69.4 204.2,64.7 203.3,62.6 204.3,58.5 203.2,54.4 204.1,51.1 203.2,47.6 204.5,43.5 203.1,41.0 204.2,36.9 203.2,32.4 204.5,30.3 203.2,25.7 204.4,21.5 203.2,18.2 204.2,14.3 203.4,11.3 204.5,7.2 203.2,4.6 204.2,-0.0 203.1,-3.6 204.3,-6.5 203.1,-9.7 204.4,-13.6 203.2,-17.8 204.4,-21.9 203.2,-24.5 204.4,-27.6 203.3,-32.2 204.2,-35.1 203.3,-39.8 204.3,-43.2 203.4,-46.7 203.8,-50.0 205.4,-50.0 205.0,-45.6 205.7,-42.0 205.1,-38.8 205.7,-35.2 205.0,-31.7 205.9,-27.7 204.9,-24.5 205.8,-21.6 204.9,-17.6 205.9,-13.5 204.7,-10.5 206.0,-6.5 205.1,-1.8 205.9,0.6 205.0,5.1 205.9,8.1 204.9,12.6 205.8,16.5 205.1,18.9 205.8,22.7 205.1,26.6 205.7,30.4 205.1,33.8 205.7,36.9 205.2,41.0 205.7,44.5 205.2,47.8 205.6,52.2 205.1,56.6 205.7,59.7 205.1,63.1 205.7,66.5 205.0,70.4 206.0,73.9 204.9,77.0 206.2,82.0 204.8,84.1 205.9,88.6 205.0,92.1 206.1,95.5 205.1,99.3 205.9,103.7 205.0,106.5 205.8,110.7 205.0,114.3 206.0,117.5 205.2,121.0 205.9,124.8 205.1,128.3 206.0,132.9 204.9,136.3 206.0,139.2 204.8,142.5 205.9,146.5 204.9,150.0 206.2,153.5 205.0,158.6 206.0,161.4 204.9,165.4 206.0,169.6 204.9,172.2 206.2,176.4 205.1,179.7 205.9,184.2 205.0,186.7 206.0,190.8 204.8,194.5 206.0,198.0 205.0,201.3 205.8,204.5 205.5,209.0 205.8,204.6 205.2,201.6 205.9,198.4 205.2,195.2 206.1,191.2 205.1,187.1 206.1,183.2 205.1,179.7 206.3,176.2 204.9,172.7 206.3,168.7 205.0,165.0 206.3,162.0 205.3,157.5 206.3,153.4 205.2,151.0 206.1,146.3 205.2,143.9 206.3,140.5 205.2,135.4 206.1,132.6 205.1,128.0 206.1,124.3 205.2,121.0 206.1,118.3 205.4,114.4 206.3,111.1 205.3,106.3 206.5,102.6 205.3,99.7 206.3,96.2 205.5,91.5 206.4,89.3 205.3,85.0 206.2,80.7 205.3,77.2 206.4,74.4 205.4,69.9 206.3,67.5 205.6,64.0 206.2,58.7 205.6,56.5 206.2,52.6 205.6,49.4 206.2,44.5 205.6,40.7 206.3,37.9 205.6,34.3 206.4,30.3 205.6,26.9 206.5,23.2 205.6,18.7 206.7,15.7 205.6,11.7 206.6,7.9 205.5,4.2 206.5,1.0 205.6,-2.5 206.5,-6.9 205.6,-10.2 206.6,-12.9 205.4,-18.1 206.8,-21.2 205.7,-23.8 206.5,-28.2 205.4,-32.0 206.5,-35.4 205.7,-39.2 206.5,-43.3 205.9,-45.8 206.2,-50.0 207.2,-50.0 206.6,-46.6 207.6,-42.1 206.5,-38.5 207.6,-34.8 206.7,-32.2 207.6,-28.8 206.8,-24.5 207.5,-21.6 206.7,-17.1 207.6,-14.5 206.8,-10.9 207.6,-6.7 206.8,-3.5 207.7,0.9 206.7,3.6 207.6,8.2 206.8,11.7 207.6,15.3 206.8,19.2 207.7,22.0 206.7,25.7 207.8,29.9 206.7,33.3 207.7,35.8 206.4,40.5 207.6,43.4 206.8,47.1 207.7,50.1 206.7,54.6 207.5,57.9 206.9,62.2 207.7,66.2 206.7,69.0 207.7,71.8 206.5,76.5 207.7,78.9 206.8,83.0 207.6,87.3 206.7,89.8 207.5,93.5 207.0,97.1 207.5,101.3 206.9,105.0 207.5,109.4 206.9,112.4 207.5,116.0 206.7,120.3 207.2,123.0 206.6,119.1 207.7,116.3 206.7,113.0 207.7,109.0 206.8,104.4 207.8,101.6 206.6,97.4 207.7,94.8 206.8,91.2 207.5,86.8 207.0,82.5 207.5,80.6 207.1,75.9 207.4,73.2 206.9,69.3 207.5,65.2 207.1,62.4 207.5,57.8 207.1,55.3 207.6,51.8 207.0,47.8 207.5,43.7 207.0,39.2 207.6,36.0 207.0,32.3 207.5,30.1 206.8,26.1 207.9,22.8 206.9,18.8 207.7,14.9 206.8,11.8 207.7,6.9 206.9,3.6 207.8,1.0 206.8,-3.1 207.9,-7.2 206.9,-10.6 207.9,-14.8 206.8,-17.2 208.0,-21.1 206.8,-24.3 207.7,-28.4 206.8,-31.6 207.8,-35.0 207.1,-39.5 207.6,-42.7 207.2,-46.7 207.4,-50.0"/>
<polyline stroke-width="5.4" points="83.2,563 84.2,552 85.2,544 86.3,548 86.6,530 87.9,542 88,527 88.8,524 88.8,496 90.3,490 90.8,480 92.7,476 92.7,452 93,436 94.8,450 95.2,432 95.8,428 96,404 95.2,381 97,402 98.2,378 99.2,372 100,340 101.5,330 102,210 103,335 104,222 104.5,338 105.3,151.5 106.3,338 107.4,245 108.2,338 108.8,241 110.5,370 111.5,255 112.5,336 114.4,230.5 115.5,325 116.3,250 116.8,320 117.6,268 118.5,305 119.5,240 120,296 121.2,217 122.3,285 123.5,252 124.3,330 124.6,370 125.3,403 126.5,372 127.5,403 128.5,365 129.4,360.5 130.5,403 131.5,368 132.5,405 133.5,370 134.3,420 135.3,372 136.2,418 137,376 137.8,410 138.8,385 139.8,357 141,415 142,385 143.5,421.5 144.6,400 145.7,392 146.8,421 148,405 149.6,449.7 150.6,420 151.6,400 152.8,385 154.2,370 154.2,340 154.5,330 155.5,286 156.5,338 157.5,278 158.3,340 159.2,269 160.6,341.5 162,266 163,340 163.8,260 164.6,338 165.8,240 166.8,225.4 167.8,345 169.2,256 170.2,350 171,283 171.7,351 173,292 174,350 174.7,289 176,352 177.3,297 178.4,301 179.6,360 181,295 182,358 183.3,288.5 184.5,360 185.7,294 186.5,345 187.2,320 188,372 186.2,385 187,410 188,378 188.8,418 189.8,380 190.6,424 191.5,380 192.4,430 193.3,382 194.2,436 195,385 196.1,447 197,400 197.5,372 198,340 198,300 197.8,237.7 199,260 200.3,191 201.3,320 202.3,200 203.5,336.5 203.8,-50 205.4,-50 205.5,209 206.2,-50 207.2,-50 207.2,123 207.4,-50"/>
<polyline points="325.6,-50.0 326.2,-45.5 325.3,-42.7 325.9,-39.9 325.1,-35.9 326.1,-31.7 325.2,-27.4 326.1,-25.3 325.3,-21.4 326.0,-17.8 324.9,-14.3 326.1,-10.8 325.2,-6.7 326.2,-2.9 325.2,0.5 325.9,4.9 325.4,7.3 325.9,11.4 325.0,15.5 326.0,19.5 325.4,23.3 325.8,27.2 325.4,30.3 326.0,32.7 325.4,37.5 325.9,41.2 325.3,45.2 325.9,48.7 325.2,51.0 325.9,56.0 325.1,59.3 326.3,63.1 325.2,67.2 325.9,70.1 325.1,73.1 325.9,77.0 325.3,81.5 326.3,84.0 325.2,88.1 326.1,92.3 325.0,95.9 326.0,98.4 324.8,102.2 326.3,107.0 325.2,109.2 326.1,113.9 325.1,116.8 326.1,121.7 325.2,123.7 325.9,127.4 325.1,131.3 326.1,136.3 325.2,139.7 326.1,142.4 325.2,146.8 325.9,150.8 325.4,153.8 325.9,157.0 325.4,160.5 325.8,164.9 325.3,168.7 325.8,171.2 325.3,175.9 325.8,179.1 325.4,183.3 325.8,187.1 325.3,189.3 325.8,193.2 325.4,196.8 325.8,201.6 325.4,203.8 325.8,208.6 325.4,211.7 325.9,215.5 325.6,219.0 326.1,215.4 326.1,211.1 326.9,207.8 327.0,202.1 327.7,198.8 327.8,194.4 328.3,191.0 328.1,193.9 328.6,198.3 328.0,201.6 328.6,205.4 328.2,209.2 328.6,213.1 328.0,217.5 328.6,221.1 328.2,223.3 328.7,228.6 328.1,231.9 328.6,235.7 328.1,239.6 328.7,242.4 328.0,246.0 328.7,250.2 328.1,253.6 328.7,257.2 328.0,261.5 328.9,265.5 328.0,267.8 328.5,272.0 328.5,275.8 327.6,280.3 328.1,282.4 327.5,287.0 326.2,290.7 330.5,290.9 326.8,295.4 331.9,297.8 331.0,300.0 330.4,304.1 331.7,307.5 330.8,311.3 331.9,314.5 331.2,319.6 332.1,322.9 331.4,325.9 332.0,330.0 332.4,333.3 331.7,337.5 332.7,342.1 331.5,346.8 332.6,350.4 331.9,353.6 332.3,358.0 332.6,361.2 331.8,365.5 332.8,369.3 332.0,372.4 332.8,376.1 332.0,380.7 332.5,384.1 332.0,388.5 332.8,391.3 332.0,394.8 332.7,399.0 331.7,403.0 332.8,407.3 331.9,410.0 332.7,413.8 331.8,417.7 332.7,421.5 331.9,425.0 332.8,429.2 331.9,433.4 332.6,435.9 332.3,440.0 331.9,444.7 332.7,448.1 331.8,452.5 332.6,456.2 332.0,460.7 332.2,464.0 332.5,467.6 331.0,470.0 330.3,473.4 333.7,475.1 332.2,479.1 334.0,481.0 334.5,484.6 333.7,488.8 334.6,491.0 334.1,495.5 334.7,499.6 334.2,502.5 334.8,505.7 334.7,510.0 334.4,513.1 334.8,518.4 334.2,522.1 334.3,525.0 334.4,521.0 337.3,519.0 336.4,515.6 338.0,514.0 338.0,518.6 339.1,523.1 339.0,528.0 341.9,531.0 341.6,534.5 342.2,537.9 341.7,541.7 342.4,545.4 341.5,550.6 342.5,553.5 342.1,557.6 340.3,561.0 344.6,563.2 340.9,564.7 342.9,567.4 345.2,568.4 343.4,572.0 346.0,574.0 349.0,573.8 350.3,576.9 352.7,575.1 350.7,570.4 352.5,568.0 354.4,566.2 354.3,562.0 356.2,565.1 354.7,568.2 356.0,570.0 357.9,571.9 357.7,574.9 359.8,576.4 360.6,579.3 362.0,576.7 361.0,574.0 362.5,572.0 364.2,568.6 364.8,571.8 368.1,571.9 369.1,575.6 373.1,575.6 372.1,577.8 376.7,580.7 374.2,584.2 376.4,585.4 379.4,587.2 375.5,591.7 380.5,592.6 377.2,595.6 381.7,596.7 380.2,600.6 383.8,597.7 386.7,601.4 389.3,598.8 387.4,596.2 390.3,593.6 394.4,592.0 397.7,589.6 394.2,586.2 397.7,583.3 400.1,585.9 403.4,583.0 407.7,584.0 404.2,588.3 408.3,589.1 406.1,586.4 412.1,583.4 408.1,581.3 411.9,578.9 410.8,575.6 409.2,572.4 415.3,571.2 411.7,568.4 416.8,566.9 415.7,564.2 414.5,561.1 418.6,559.8 416.3,556.2 418.1,554.3 421.4,553.0 419.4,549.2 422.2,547.8 424.9,547.0 423.1,542.6 425.9,541.7 424.3,538.8 426.3,536.4 429.1,535.1 430.8,531.0 430.0,527.1 432.8,526.5 433.5,523.4 432.6,518.3 433.6,514.1 433.3,510.3 432.2,507.8 437.5,505.4 434.1,502.4 437.4,500.5 439.9,498.1 436.1,495.0 441.1,491.9 436.3,489.9 441.7,486.7 439.8,484.2 439.6,481.1 441.2,476.7 440.3,472.5 441.9,467.8 441.5,464.5 444.0,462.0 443.5,458.4 446.7,456.5 446.4,461.0 447.7,464.3 447.0,467.8 448.2,471.5 447.7,474.7 448.5,479.3 448.3,482.7 448.8,485.8 450.9,488.1 448.5,490.9 451.7,493.7 451.0,497.0 450.3,501.0 454.0,501.8 453.7,505.0 457.5,504.0 457.0,508.8 458.1,513.0 457.3,515.9 458.1,521.2 457.5,525.3 458.3,528.6 458.0,532.5 460.1,530.0 457.9,528.0 460.0,525.0 462.3,523.1 463.5,519.0 464.0,521.9 463.9,526.2 464.8,529.6 464.8,534.6 465.6,537.7 465.4,541.8 466.0,545.0 465.6,542.9 468.4,540.5 468.5,538.0 471.7,540.0 471.8,536.4 472.7,531.5 472.7,527.7 473.3,524.0 476.5,522.0 479.9,522.3 479.6,524.8 482.0,527.1 480.3,530.9 483.1,532.0 482.0,535.0 481.1,538.3 484.8,540.9 482.3,543.3 484.6,546.5 483.1,544.4 486.4,540.8 484.2,537.7 486.9,535.5 485.4,532.6 486.5,530.0 488.6,527.3 486.3,524.7 490.2,523.3 486.2,518.8 488.9,517.5 486.9,520.2 491.5,522.9 487.4,525.0 492.0,526.9 490.5,530.0 489.5,533.3 493.0,535.3 489.2,537.0 493.0,540.1 490.2,542.3 492.2,544.7 493.0,549.0 492.4,553.3 493.3,556.2 493.1,561.0 493.8,564.4 493.8,568.5 494.4,565.2 494.3,561.5 495.0,557.3 495.0,553.1 495.8,549.4 495.5,546.9 496.4,541.9 496.2,538.8 496.8,535.4 497.3,531.7 496.9,527.3 497.9,523.9 497.5,519.5 498.4,514.2 498.4,510.9 498.2,506.7 498.6,502.6 498.2,499.2 498.8,495.9 498.0,492.2 498.7,489.2 498.1,484.2 498.8,481.6 498.0,477.5 498.5,472.9 498.3,470.0 498.0,465.5 498.5,461.6 497.9,457.9 498.3,455.6 497.7,451.1 498.4,447.5 497.6,444.1 497.9,440.0 498.6,436.3 497.8,433.3 498.6,429.0 498.3,425.1 498.9,420.9 498.5,417.6 499.2,414.0 499.1,410.0 499.1,406.8 499.8,402.6 499.3,399.4 500.2,395.3 499.4,391.3 500.8,387.9 499.8,384.2 500.4,380.0 501.0,376.3 499.7,373.2 501.0,368.4 500.0,365.5 500.8,361.0 499.9,357.5 500.7,355.2 499.9,351.1 500.8,347.9 500.0,343.6 500.4,340.0 500.8,336.7 500.2,332.2 500.9,329.5 500.2,324.7 501.0,322.6 500.5,318.5 501.2,315.3 500.7,310.6 501.3,307.4 500.8,303.4 501.2,300.0 501.5,296.1 500.6,292.3 501.5,288.7 500.9,284.2 501.3,280.9 500.8,277.8 501.4,272.9 500.8,270.2 501.5,266.1 500.7,262.2 501.5,259.2 500.6,255.7 501.4,250.9 500.6,248.1 501.3,242.9 501.0,240.0 500.6,236.7 501.4,232.7 500.8,229.1 501.5,224.5 501.0,220.6 501.5,216.9 501.2,213.7 501.7,210.9 501.2,207.1 501.9,203.1 501.4,197.9 502.0,195.7 501.6,191.6 502.3,188.1 501.6,184.4 502.0,180.0 502.2,176.5 501.8,171.5 502.4,168.4 501.9,163.9 502.6,160.6 501.9,156.0 503.0,153.8 501.9,149.8 503.0,145.3 502.0,141.2 503.3,138.0 502.1,133.9 502.7,130.0 503.2,125.8 502.3,123.2 503.0,118.0 502.2,114.5 502.8,111.7 502.2,106.7 502.8,103.8 502.5,100.0 502.4,96.5 503.0,91.9 502.4,87.7 503.2,84.1 502.8,78.6 503.2,75.0 503.6,70.5 503.4,66.8 504.0,63.3 504.0,60.0 503.8,57.2 504.2,53.2 503.7,48.3 504.2,45.6 503.8,40.8 504.2,37.9 503.8,33.9 504.2,29.9 503.7,26.2 504.3,22.8 503.7,20.3 504.3,16.0 503.7,12.1 504.4,8.2 503.6,5.5 504.5,0.9 503.7,-1.5 504.5,-5.5 503.6,-9.8 504.7,-14.2 503.4,-17.0 504.3,-21.4 503.3,-23.8 504.5,-27.7 503.3,-30.8 504.7,-35.7 503.6,-39.4 504.3,-42.6 503.7,-45.7 504.0,-50.0"/>
<polyline stroke-width="5.4" points="325.6,-50 325.6,219 328.3,191 328.5,272 327.5,287 331,300 332,330 332.3,358 332.3,440 332.2,464 331,470 334,481 334.7,510 334.3,525 338,514 339,528 341.9,531 342.1,557.6 342.9,567.4 346,574 350.3,576.9 352.5,568 354.3,562 356,570 360.6,579.3 362.5,572 364.2,568.6 369.1,575.6 373.1,575.6 376.4,585.4 380.2,600.6 383.8,597.7 386.7,601.4 390.3,593.6 394.4,592 397.7,583.3 403.4,583 408.3,589.1 410.8,575.6 415.7,564.2 418.1,554.3 422.2,547.8 426.3,536.4 430.8,531 432.8,526.5 433.3,510.3 437.4,500.5 439.8,484.2 441.5,464.5 444,462 446.7,456.5 448.8,485.8 451,497 453.7,505 457.5,504 458,532.5 460,525 463.5,519 466,545 468.5,538 471.7,540 473.3,524 476.5,522 479.9,522.3 482,535 484.6,546.5 486.5,530 488.9,517.5 490.5,530 492.2,544.7 493.8,568.5 496.8,535.4 498.4,510.9 498.3,470 497.9,440 499.1,410 500.4,380 500.4,340 501.2,300 501,240 502,180 502.7,130 502.5,100 503.2,75 504,60 504,-50"/>
<polyline points="524.9,-50.0 525.2,-46.5 524.7,-43.2 525.1,-39.4 524.6,-36.0 525.1,-31.3 524.5,-28.7 525.1,-23.6 524.6,-20.2 525.2,-17.1 524.6,-13.4 525.2,-9.0 524.6,-6.1 525.3,-3.1 524.7,1.5 525.2,4.3 524.7,7.9 525.1,13.1 524.4,16.2 525.3,19.8 524.6,23.5 525.5,27.7 524.5,30.8 525.4,34.8 524.6,38.7 525.1,42.0 524.7,46.0 525.1,49.1 524.7,52.6 525.3,56.2 524.4,60.8 525.3,64.2 524.5,67.6 525.3,71.5 524.7,74.1 525.1,77.7 524.7,82.2 525.1,85.3 524.6,89.9 525.1,93.3 524.6,96.7 525.1,99.7 524.9,104.0 525.1,99.6 524.8,96.4 525.3,93.1 524.7,88.5 525.5,85.8 524.8,82.2 525.5,78.9 524.8,74.9 525.6,70.8 525.0,66.5 525.8,62.9 525.0,60.5 525.8,56.8 525.3,53.4 525.9,48.5 525.2,44.6 526.0,40.9 525.5,38.9 526.1,33.7 525.6,31.4 526.1,26.9 525.6,23.1 526.2,19.8 525.5,15.8 526.3,12.8 525.6,8.5 526.5,4.6 525.6,1.1 526.7,-3.1 525.8,-6.8 526.7,-9.1 525.8,-13.7 527.0,-16.8 526.0,-21.4 527.1,-24.9 526.1,-27.5 527.0,-32.2 526.3,-34.7 527.1,-39.1 526.2,-42.6 527.2,-46.8 526.8,-50.0 528.9,-50.0 529.2,-46.9 528.7,-42.5 529.2,-39.7 528.6,-35.1 529.1,-32.2 528.5,-29.1 529.0,-24.5 528.6,-21.6 529.1,-17.2 528.3,-14.3 529.5,-10.3 528.2,-6.0 529.5,-3.2 528.3,0.3 529.3,3.5 528.3,7.7 529.2,11.1 528.5,14.5 529.3,17.7 528.5,22.7 529.1,25.3 528.6,29.4 529.0,32.9 528.5,36.8 529.1,40.7 528.4,43.3 529.0,48.0 528.6,51.3 529.1,54.7 528.3,58.5 529.3,62.2 528.4,65.4 529.0,67.9 528.3,72.2 529.0,76.2 528.5,79.6 529.0,82.5 528.4,87.3 529.0,89.8 528.5,94.3 528.9,96.8 528.4,101.0 529.2,104.6 528.2,108.4 528.9,111.7 528.5,116.3 529.0,118.8 528.3,122.0 528.9,126.8 528.2,130.8 529.1,133.8 528.4,136.8 529.1,140.1 528.2,144.9 528.9,147.3 528.4,151.3 528.9,154.5 528.4,159.2 528.8,161.5 528.6,166.0 529.1,162.0 528.5,158.3 529.1,155.2 528.8,151.9 529.4,148.1 529.0,144.9 529.6,140.4 529.3,137.5 529.9,133.1 529.1,129.5 530.1,127.2 529.6,122.3 530.5,118.7 529.6,115.8 530.2,112.0 530.0,116.4 530.7,119.2 530.2,123.0 530.6,126.5 530.1,130.4 530.8,134.0 530.3,138.2 530.9,141.2 530.3,146.1 531.2,149.1 530.2,152.2 531.2,156.9 530.2,159.5 531.3,164.3 530.5,168.1 531.4,172.2 530.7,175.9 531.6,178.7 530.9,183.1 531.8,186.2 531.3,190.0 531.0,193.0 531.9,197.1 531.0,200.7 532.0,204.2 531.2,208.3 532.2,212.2 531.0,215.9 532.3,218.8 531.3,222.3 532.5,225.9 531.6,229.8 532.8,233.5 531.6,236.9 532.7,241.0 532.3,245.0 532.0,250.1 532.6,255.0 533.2,258.8 532.5,263.2 533.6,266.5 533.4,270.0 533.1,273.4 533.8,278.0 533.1,281.3 534.0,284.8 533.4,289.2 534.3,292.8 533.7,298.0 534.5,301.1 534.2,305.0 533.8,309.2 535.0,313.6 534.2,317.2 535.1,321.2 534.4,325.6 535.0,330.0 535.5,334.4 534.6,337.7 536.0,341.8 534.6,345.5 535.5,350.0 536.1,353.2 534.8,357.9 535.9,361.7 534.8,364.9 535.5,369.1 535.0,372.0 537.3,370.0 533.5,366.7 538.0,364.5 534.6,360.0 537.0,358.0 536.6,362.1 537.7,364.6 537.1,369.5 538.1,371.9 537.4,375.9 538.0,380.0 538.0,375.9 539.0,372.4 538.8,368.5 539.4,366.1 539.5,361.5 540.0,358.0 541.6,360.0 541.3,363.9 542.1,368.5 541.6,372.0 542.1,375.8 541.7,380.8 542.0,384.0 542.5,387.3 542.3,392.7 542.9,396.5 542.9,400.0 542.7,404.7 543.3,407.2 542.8,412.1 543.7,415.2 542.7,419.3 543.6,422.3 543.0,426.8 543.5,430.0 544.0,434.3 543.0,437.4 544.2,440.4 543.1,444.6 543.9,448.9 543.1,451.6 544.1,454.7 543.4,458.8 544.2,463.0 543.4,466.5 543.8,470.0 544.2,474.0 543.5,478.0 544.3,482.8 543.8,486.5 544.3,491.0 544.1,494.5 543.9,498.2 545.0,504.3 545.0,508.0 547.7,505.7 545.1,501.5 547.0,500.0 549.5,504.0 547.8,505.9 551.7,508.7 550.0,512.0 548.9,515.3 552.7,517.4 550.5,520.1 552.0,522.3 552.6,525.2 552.5,530.5 553.3,533.6 553.0,537.7 554.0,540.3 553.8,545.4 554.4,548.5 557.1,550.8 553.5,553.2 556.4,555.8 554.1,557.8 557.0,561.5 556.0,563.2 558.0,560.0 557.1,562.1 560.0,564.0 558.4,567.1 560.6,569.5 560.1,572.5 562.0,570.1 559.8,568.2 563.5,565.4 561.8,562.8 563.4,560.8 562.7,563.3 565.7,566.1 564.2,568.4 566.2,571.6 564.9,568.6 567.5,567.4 565.9,564.5 568.3,562.8 566.4,559.7 568.6,557.9 566.7,555.1 569.0,553.4 567.0,549.7 570.1,548.0 569.1,545.2 569.5,541.2 572.5,540.0 573.2,536.8 574.8,539.4 573.9,543.6 575.7,545.2 575.0,541.3 577.5,540.0 579.1,537.2 577.1,533.9 580.8,533.3 579.4,529.4 580.3,532.8 579.5,537.9 580.9,540.3 580.5,545.0 578.8,547.5 583.5,551.0 580.3,553.9 582.8,556.8 581.1,559.6 582.2,561.6 582.3,558.8 587.1,557.7 585.5,555.0 586.6,558.7 585.6,563.6 587.5,567.4 587.1,571.0 591.5,569.7 590.5,566.3 592.9,568.3 591.2,572.4 594.8,573.3 592.6,577.7 596.3,579.0 595.5,581.5 597.5,578.0 599.8,575.6 599.5,573.0 600.6,574.8 599.5,578.5 601.3,579.4 599.8,583.0 601.0,585.0 602.6,587.4 599.5,591.3 603.9,592.5 599.8,595.8 602.6,599.2 601.7,595.4 605.8,594.3 605.0,592.0 607.0,590.3 610.6,591.4 610.3,594.1 609.8,597.4 612.1,599.9 610.0,601.3 612.1,604.4 610.7,606.1 613.3,608.9 610.9,612.0 613.2,614.1 612.7,617.0 612.5,620.2 615.2,623.5 617.4,624.1 619.2,626.8 619.1,629.9 621.1,633.0 620.9,635.8 625.0,638.2 629.1,639.8 632.3,642.6 635.3,643.0 638.1,642.0 638.0,639.2 641.3,637.1 641.3,634.1 643.5,631.3 645.4,630.9 647.5,630.5 649.5,627.6 648.8,625.0 652.8,622.3 652.0,618.6 652.6,615.0 656.7,617.5 657.7,613.7 657.6,609.5 658.9,606.2 658.2,602.6 659.3,599.9 659.3,595.7 658.8,591.6 662.6,589.5 665.0,592.4 668.3,589.2 668.7,584.7 667.9,581.3 668.7,578.1 667.8,574.4 669.0,569.6 668.3,566.3 667.2,564.1 670.6,561.1 667.7,557.3 671.7,556.0 670.8,552.9 674.0,553.6 674.8,558.3 676.8,556.7 673.4,551.9 678.0,550.1 673.9,547.7 676.5,545.0 677.2,541.4 680.6,539.5 677.1,535.8 681.7,535.1 680.0,532.0 682.7,534.6 682.5,538.0 685.3,541.8 686.0,538.0 685.8,533.8 686.8,530.5 686.2,526.5 687.5,522.1 687.2,517.9 687.8,513.6 689.7,511.8 689.7,507.5 691.9,505.4 692.5,501.3 692.2,496.1 693.3,492.1 692.9,489.3 693.5,484.2 696.8,480.9 697.2,477.5 696.5,472.7 697.0,468.9 696.5,465.3 697.1,460.7 696.8,456.4 696.6,453.2 697.0,447.9 696.6,445.3 697.1,440.1 696.5,437.2 696.8,433.0 698.3,429.9 696.8,428.1 698.5,425.0 700.6,421.0 700.9,426.6 701.7,429.6 702.0,435.0 701.4,437.1 703.7,441.0 701.9,443.2 704.5,445.5 703.5,449.0 704.1,445.8 703.7,441.5 704.4,438.2 704.0,434.6 704.9,429.8 704.4,426.6 705.0,423.0 703.9,425.2 707.8,428.1 705.6,431.3 709.4,433.4 708.2,436.3 709.1,432.2 708.4,428.7 709.6,423.8 709.0,420.7 710.0,416.9 709.3,413.3 710.4,408.9 710.4,405.0 712.3,406.8 708.9,409.4 712.4,412.2 710.0,414.7 713.1,417.0 712.0,420.0 711.0,422.1 714.9,424.9 712.0,427.5 714.0,429.4 713.6,426.4 714.9,421.3 713.9,418.8 715.2,414.8 714.5,411.0 715.7,406.9 714.8,402.9 715.5,400.0 716.1,397.0 715.4,392.6 716.4,388.7 715.8,385.6 717.0,381.3 716.3,377.8 716.9,374.7 715.9,376.8 719.5,379.5 716.6,382.4 718.5,385.0 720.5,384.0 721.0,387.6 720.8,392.7 721.5,395.5 721.2,400.2 722.1,403.0 721.5,407.7 722.6,411.1 722.5,415.0 722.1,418.2 723.5,422.9 722.8,427.5 724.4,430.2 724.1,434.3 724.8,430.1 723.7,427.3 725.1,422.2 724.1,418.7 725.3,415.1 724.5,411.5 725.5,407.8 724.5,403.1 725.2,400.0 725.9,396.6 725.3,392.5 726.1,389.6 725.6,385.5 726.2,381.3 726.3,386.2 727.2,389.9 727.3,395.0 727.3,398.8 728.4,404.5 728.4,408.5 729.0,404.3 728.8,400.5 729.7,396.2 729.7,390.4 730.3,387.0 730.2,390.6 731.2,394.8 730.7,399.0 731.4,401.7 730.9,405.5 731.5,410.0 731.9,413.7 731.6,417.3 732.4,421.3 732.2,425.6 732.9,428.9 732.6,432.9 733.1,437.6 731.8,434.1 735.3,432.7 732.7,429.2 736.1,428.0 734.5,425.0 734.3,420.8 735.0,418.2 734.6,413.0 735.4,410.2 734.8,405.1 735.6,402.6 734.9,398.0 736.0,395.0 735.1,391.6 735.7,387.0 736.1,383.7 735.8,379.2 736.5,374.6 735.9,370.8 736.9,367.1 736.1,364.3 736.7,360.0 737.5,357.9 736.9,354.4 738.0,351.8 737.3,350.5 738.4,348.0 737.6,345.7 739.1,342.3 738.5,339.2 739.7,336.9 739.0,335.8 739.9,332.8 740.0,330.0 740.0,327.0 740.6,323.2 740.3,319.5 741.2,315.5 740.8,311.3 741.7,306.9 741.1,303.7 741.8,300.0 742.2,294.4 741.9,290.0 741.8,286.3 742.8,282.7 742.0,277.8 743.2,274.3 742.4,269.6 743.7,265.3 743.4,262.0 741.9,260.2 745.7,256.7 741.9,255.0 746.3,253.5 744.7,250.0 744.0,246.0 745.4,243.5 744.2,239.9 745.2,235.4 744.4,230.9 745.2,228.5 744.3,224.5 745.3,219.9 744.0,216.7 745.1,213.8 744.4,209.4 745.1,205.9 744.2,202.5 745.1,198.5 744.4,195.0 745.1,190.5 744.2,187.7 745.0,184.3 744.4,181.2 745.0,177.0 744.1,173.3 745.1,169.1 744.1,166.4 745.4,162.7 744.0,157.7 745.2,154.4 744.0,150.8 745.3,147.5 744.2,144.4 744.7,140.0 745.4,135.7 744.3,132.0 745.6,128.7 744.6,124.8 745.7,120.4 744.7,116.7 745.5,113.2 745.0,117.1 746.1,120.0 745.6,123.6 746.2,127.2 746.0,131.3 746.5,135.4 746.1,138.5 746.8,142.5 746.5,147.2 746.8,150.0 746.9,145.6 747.4,142.2 747.3,137.8 748.0,133.6 747.6,128.5 748.2,125.0 748.0,128.8 748.7,132.5 747.9,135.2 749.0,140.2 748.1,143.1 749.1,147.3 748.1,150.5 749.3,154.3 748.1,158.0 749.3,161.0 748.5,163.9 749.6,168.4 748.4,172.6 749.5,175.4 748.6,178.8 749.3,182.7 749.0,179.7 749.9,175.9 749.0,172.4 750.0,167.6 749.0,163.7 749.9,161.0 749.4,157.8 750.2,153.7 749.5,149.7 750.3,146.8 749.7,142.4 750.3,139.9 749.8,136.2 750.3,132.9 749.9,129.0 750.5,124.7 749.9,121.8 750.7,116.8 750.2,114.0 750.8,111.1 750.3,107.3 750.6,103.0 750.4,107.5 751.0,110.6 750.6,114.3 751.3,117.3 750.8,121.2 751.4,125.5 751.1,129.5 751.7,132.9 751.1,136.0 751.5,140.0 751.1,135.6 751.9,131.9 751.1,129.9 751.9,125.3 751.2,121.0 752.1,117.4 751.2,115.1 752.4,111.1 751.0,107.8 752.2,104.1 751.3,99.1 752.3,95.3 751.1,91.6 752.1,88.9 751.4,84.6 752.0,81.8 751.2,78.1 752.2,73.9 751.6,70.8 752.2,66.2 751.6,63.2 752.1,60.0 751.6,55.8 752.2,52.8 751.8,48.4 752.1,44.4 751.7,41.7 752.3,38.2 751.7,34.0 752.4,30.1 751.7,26.4 752.6,23.1 751.7,19.2 752.5,15.0 751.8,11.8 752.6,9.1 751.9,5.5 752.6,0.6 751.9,-1.9 752.4,-5.7 751.8,-9.8 752.5,-13.1 751.9,-17.0 752.6,-20.4 751.9,-24.1 752.7,-28.5 751.8,-32.3 752.7,-36.1 752.1,-39.5 752.7,-42.6 752.2,-45.7 752.4,-50.0 754.0,-50.0 753.7,-46.5 754.3,-42.6 753.7,-38.9 754.4,-36.3 753.8,-31.8 754.2,-28.2 753.6,-24.7 754.2,-21.7 753.6,-18.0 754.5,-13.5 753.5,-10.6 754.5,-6.2 753.6,-3.4 754.6,1.7 753.3,5.3 754.7,7.3 753.4,11.1 754.7,14.7 753.7,18.7 754.3,22.5 753.8,26.2 754.7,29.0 753.7,32.9 754.8,38.0 753.8,40.5 754.4,45.1 753.5,47.2 754.4,52.5 753.7,55.0 754.7,58.7 753.5,63.1 754.6,66.9 753.8,69.6 754.6,73.5 753.8,76.5 754.4,80.0 753.8,84.9 754.4,87.2 753.9,90.9 754.5,95.7 753.9,98.4 754.4,102.8 754.0,106.2 754.5,110.3 754.0,113.1 754.4,116.8 754.0,119.8 754.4,124.1 754.0,128.0 754.4,131.9 754.0,135.8 754.4,138.7 754.0,143.1 754.2,146.0 754.0,143.2 754.5,138.0 754.0,134.2 754.6,131.9 754.1,128.4 754.7,123.6 754.1,120.2 754.7,116.3 754.1,113.6 754.7,109.2 754.2,106.7 754.7,101.6 754.2,98.1 755.0,94.5 754.4,91.9 754.9,88.5 754.5,85.2 755.0,80.8 754.5,77.1 754.9,73.5 754.4,69.9 754.9,65.8 754.6,61.7 755.0,59.0 754.4,55.1 755.2,51.7 754.6,47.5 755.3,44.8 754.5,40.1 755.3,37.3 754.6,32.6 755.7,30.0 754.4,25.4 755.6,21.8 754.7,19.7 755.6,15.6 754.7,12.5 755.5,8.2 754.9,5.2 755.5,1.3 755.0,-3.6 755.6,-6.3 755.0,-9.9 755.6,-13.7 754.9,-17.2 755.8,-21.2 754.8,-23.8 755.9,-27.9 755.0,-31.6 755.9,-35.1 754.9,-38.3 755.8,-42.2 755.0,-46.3 755.6,-50.0 756.0,-50.0 755.6,-47.2 756.6,-42.1 755.4,-39.2 756.6,-34.9 755.6,-32.3 756.7,-27.2 755.4,-25.3 756.8,-20.7 755.4,-17.0 756.6,-13.6 755.5,-9.5 756.6,-6.8 755.7,-2.9 756.4,1.9 755.6,5.7 756.5,9.4 755.5,11.8 756.5,15.2 755.7,18.8 756.6,22.5 755.7,27.5 756.6,31.1 755.5,33.4 756.4,38.6 755.9,41.2 756.4,45.0 755.7,48.8 756.6,52.2 755.7,55.3 756.6,60.6 756.0,63.9 756.4,66.9 755.8,70.6 756.7,75.1 755.7,77.7 756.4,82.3 755.9,85.9 756.4,89.5 755.9,91.9 756.4,96.3 756.2,100.0 756.0,104.5 756.7,107.7 755.9,110.6 756.9,115.6 756.2,117.8 756.8,122.0 756.4,125.1 756.9,129.8 756.5,133.0 757.1,136.5 756.5,140.9 757.3,144.1 756.6,147.3 757.6,152.7 756.5,155.0 757.7,160.0 757.0,162.7 757.8,167.1 757.1,170.7 757.9,173.2 756.8,176.8 758.1,181.8 757.0,185.7 758.3,188.2 757.8,192.5 758.3,189.0 757.3,184.6 758.4,181.8 757.7,177.3 758.5,175.1 757.9,171.0 758.8,166.9 757.6,164.1 758.8,159.5 757.8,155.5 759.3,152.4 758.2,148.7 759.1,145.3 758.2,140.4 759.3,138.1 758.2,134.3 759.6,130.0 758.5,125.8 759.7,122.1 758.6,120.1 759.8,115.6 759.3,112.0 759.9,115.0 759.6,119.5 760.6,122.6 760.5,127.0 761.0,130.0 760.8,126.7 761.9,122.0 761.3,119.4 762.0,115.0 761.6,111.2 762.4,107.6 762.1,103.0 762.5,100.0 763.0,96.1 762.7,93.1 763.4,89.0 763.0,85.6 763.6,81.0 763.5,84.7 764.0,88.2 763.5,91.7 764.1,95.5 763.7,98.8 764.1,102.5 763.7,106.7 764.4,110.1 763.7,114.0 764.4,117.1 764.0,122.3 764.5,125.2 764.0,128.4 764.6,132.4 764.3,135.8 764.5,140.0 765.0,142.9 763.1,144.3 764.4,147.3 763.0,150.0 763.0,153.4 763.8,157.7 763.4,160.8 764.3,165.1 763.9,168.4 764.8,172.9 764.4,175.7 765.0,180.0 765.5,184.5 764.8,188.7 765.7,191.6 765.0,195.3 765.5,200.0 766.1,204.4 765.9,209.1 766.6,212.3 766.7,217.0 766.5,221.3 767.0,225.2 766.4,227.8 767.1,232.3 766.7,235.7 767.3,239.6 766.5,243.1 767.3,246.5 766.7,250.9 767.5,254.2 766.8,259.4 767.6,262.9 766.8,267.0 767.6,270.8 767.3,273.8 767.8,271.0 767.0,265.8 768.0,263.3 767.5,258.4 768.4,255.8 767.4,252.5 768.6,247.4 767.7,244.6 768.9,240.3 768.2,237.5 769.0,234.1 768.8,230.0 767.6,226.8 771.0,224.8 768.2,222.5 772.0,220.3 771.0,217.7 771.5,222.2 770.4,225.9 771.5,229.7 770.4,231.8 771.6,237.0 770.9,239.2 771.4,243.3 770.9,246.9 771.6,251.9 770.6,255.6 771.5,257.9 771.0,262.3 771.5,265.4 770.9,270.0 771.5,274.0 771.1,277.8 771.6,280.3 771.0,285.2 771.5,288.3 771.1,291.4 771.6,296.7 771.1,299.5 771.7,302.5 771.2,306.8 771.6,310.9 771.3,314.0 771.7,318.0 771.5,322.0 772.0,318.9 771.3,315.4 772.0,311.0 771.4,308.2 772.0,304.0 771.6,300.9 772.2,296.9 771.7,293.0 772.2,289.0 771.8,285.6 772.3,283.0 771.9,278.3 772.4,275.8 772.0,270.8 772.6,268.5 772.0,265.1 772.6,261.6 772.1,256.6 772.8,254.5 772.0,250.0 772.9,246.8 772.2,242.0 773.1,238.9 772.4,236.0 772.8,232.0 772.3,234.4 774.5,237.4 774.0,241.0 773.8,244.7 774.3,249.1 773.9,251.4 774.3,255.3 773.8,259.4 774.4,263.0 774.0,266.4 774.4,271.1 774.0,273.1 774.4,277.6 774.0,281.8 774.6,285.4 774.0,287.8 774.7,291.9 773.8,295.0 774.8,300.0 774.0,302.8 774.8,307.6 773.9,310.1 774.8,313.3 773.8,318.0 775.1,321.4 774.5,325.0 774.2,329.7 775.0,332.7 774.2,336.9 775.3,339.8 774.2,344.5 775.0,348.5 774.5,344.6 775.7,341.3 774.4,337.9 775.7,334.0 774.8,329.6 775.6,326.0 774.7,321.7 775.6,318.7 775.0,314.0 775.7,310.9 775.1,308.1 775.7,302.9 775.2,299.2 775.7,295.3 775.2,292.2 775.9,288.6 775.0,285.6 776.1,280.7 775.2,277.6 776.4,273.3 775.2,270.5 776.3,265.8 775.4,262.7 776.2,259.1 775.8,255.0 778.2,256.4 774.7,259.8 778.7,262.0 777.0,265.0 776.6,268.6 777.5,272.6 776.5,275.8 777.8,280.7 776.6,283.8 777.9,287.3 776.9,292.0 777.9,295.3 777.0,299.4 777.8,302.9 777.2,305.6 777.8,310.3 777.4,314.4 778.1,317.6 777.4,321.1 777.8,325.0 777.4,321.7 778.4,316.8 777.4,314.8 778.7,309.9 777.6,306.3 778.5,303.5 777.4,298.5 778.7,295.3 777.5,291.8 778.6,287.5 777.5,283.7 778.6,280.1 777.9,277.6 778.7,272.6 777.9,268.9 778.9,265.7 778.0,262.2 778.8,257.7 778.1,254.7 778.7,250.5 778.4,248.2 778.9,243.3 778.6,240.0 779.0,244.3 778.5,247.1 778.9,252.0 778.6,254.3 779.1,257.9 778.7,263.0 779.2,265.4 778.7,269.4 779.3,273.0 778.9,277.3 779.4,281.0 779.0,285.7 779.6,288.1 778.8,292.3 780.0,297.1 779.5,300.0 779.9,296.5 779.1,292.2 780.0,288.5 779.4,286.2 780.0,280.9 779.5,277.2 780.4,274.1 779.6,270.1 780.3,267.8 779.6,263.2 780.6,260.2 779.7,255.5 780.8,252.8 780.0,248.9 780.7,245.2 780.3,241.5 780.7,238.3 780.3,234.9 780.9,230.0 780.2,226.6 781.1,223.7 780.8,219.5 781.2,223.3 780.4,226.8 781.5,230.2 780.3,233.8 781.6,237.5 780.5,241.3 781.9,245.6 780.8,248.7 782.0,252.5 780.9,257.0 782.1,260.3 780.8,263.4 782.0,268.5 781.1,271.0 782.1,274.3 781.3,278.4 782.3,283.3 781.5,285.6 782.0,290.0 782.7,294.3 781.9,296.9 783.0,301.9 782.0,304.9 783.2,309.3 782.3,312.9 783.3,316.3 782.5,319.8 783.6,322.8 783.2,327.0 783.8,324.2 782.6,320.5 783.8,315.9 783.1,312.2 784.0,308.2 783.1,305.6 784.2,302.3 783.3,297.6 784.4,294.6 783.0,291.6 784.4,288.2 783.5,284.4 784.2,280.5 783.5,276.2 784.6,273.7 783.5,269.8 784.5,265.6 783.9,261.4 784.6,259.2 783.8,254.2 784.6,250.7 784.4,247.7 784.8,251.7 784.3,255.9 785.1,258.3 784.4,262.8 785.2,267.2 784.6,270.6 785.2,273.9 784.7,278.1 785.5,280.7 784.8,284.6 785.7,289.2 784.8,292.2 785.7,296.2 785.5,300.0 786.0,295.5 785.2,293.5 786.0,289.6 785.4,285.2 786.2,281.4 785.7,277.1 786.4,273.5 785.5,271.5 786.7,266.3 785.9,263.2 787.0,260.2 786.5,256.0 789.0,259.1 787.5,262.0 787.2,265.3 788.2,269.6 787.5,274.3 788.4,278.4 787.6,282.0 788.4,285.9 787.6,289.7 788.5,292.4 788.0,297.3 788.3,301.0 788.1,297.8 788.9,293.2 788.4,288.6 789.0,286.0 788.5,282.0 789.1,278.3 788.8,274.1 789.3,269.5 788.9,266.8 789.5,262.9 788.9,259.3 789.5,255.0 791.1,252.6 790.5,250.0 790.9,254.0 790.4,257.9 791.3,261.4 790.2,264.9 791.2,268.6 790.4,272.7 791.5,276.4 790.7,279.7 791.6,282.6 790.5,287.1 791.7,291.0 790.6,294.5 792.1,297.6 790.9,301.8 791.5,305.0 791.3,301.8 792.6,297.9 791.7,293.4 792.5,290.0 792.0,294.5 793.4,297.7 792.8,302.1 793.5,305.3 793.2,308.7 793.6,313.0 794.0,317.2 793.6,320.9 794.5,324.0 794.0,327.8 794.8,330.8 794.2,335.0 795.3,337.7 795.0,342.0 795.7,338.2 795.1,333.6 796.6,330.7 795.9,325.6 797.1,321.5 797.0,318.0 797.6,322.1 796.8,325.2 798.1,329.5 797.3,333.0 798.5,338.0 797.9,340.3 798.5,345.0 798.2,341.1 799.6,336.7 798.8,333.1 800.0,330.1 799.2,326.3 800.0,322.0 800.0,325.6 800.8,329.5 800.6,334.8 801.3,337.7 801.1,341.2 801.9,346.8 801.9,350.0 801.9,353.6 802.8,357.5 802.6,361.7 803.1,365.0 803.4,370.2 802.9,374.8 803.1,379.0 803.5,384.3 803.2,387.9 803.5,393.0 802.7,390.0 805.5,388.4 803.0,384.4 805.0,383.0 804.6,386.9 805.7,390.7 804.7,393.8 805.9,396.9 804.9,401.6 805.5,405.0 805.4,400.2 806.8,397.5 805.7,393.7 807.4,388.4 807.0,385.0 807.7,388.7 806.4,392.2 807.9,395.4 806.9,400.6 807.9,403.6 807.2,408.1 808.2,411.0 807.8,415.0 808.6,410.4 807.7,406.6 808.8,403.0 808.1,400.3 809.3,395.7 808.4,391.5 809.0,388.0 808.5,391.9 809.7,395.4 808.7,399.4 809.8,403.4 808.6,406.6 810.0,411.5 809.1,415.2 809.8,418.2 809.6,422.5 810.3,418.7 809.7,414.6 810.7,411.4 810.1,407.6 811.2,403.9 811.0,400.0 810.7,397.4 812.9,394.0 812.6,397.1 814.0,401.3 813.2,405.6 814.0,410.0 813.6,405.1 815.2,402.1 814.5,396.9 815.7,393.4 815.4,388.6 817.1,390.8 814.5,393.8 818.7,396.0 817.0,400.0 818.5,398.0 817.0,400.1 820.8,402.8 817.6,405.6 820.9,409.2 818.3,410.6 820.3,413.7 820.1,408.8 821.3,406.2 820.7,400.9 822.0,397.8 821.1,392.3 821.9,388.6 824.0,392.0 823.6,394.5 826.8,396.0 829.3,398.6 825.5,401.7 829.6,404.6 827.2,407.2 829.0,410.0 827.4,407.1 830.9,404.0 830.4,407.8 831.6,412.4 830.7,415.1 831.8,418.6 830.4,423.7 831.2,426.7 830.3,424.2 834.7,421.7 833.5,418.0 832.4,414.8 835.8,413.0 835.5,418.1 836.6,421.3 835.7,426.1 836.9,429.3 836.6,434.0 839.1,430.8 838.0,428.0 839.9,425.4 841.6,427.2 837.9,430.6 842.4,433.0 838.7,435.0 842.7,436.6 841.5,440.0 840.9,443.2 842.5,447.9 841.6,451.2 842.3,455.0 844.4,458.9 843.0,462.0 845.0,458.0 843.5,461.2 847.1,463.2 844.1,467.1 847.5,469.7 846.5,472.0 848.5,470.7 845.3,467.4 849.3,464.6 846.5,461.8 848.5,460.0 846.8,462.8 850.6,465.2 848.2,467.1 851.1,470.2 850.5,473.0 850.4,476.2 851.1,480.7 850.9,485.0 851.3,489.0 851.5,493.8 851.0,497.0 851.3,501.2 850.9,505.9 851.0,509.0 850.1,507.1 852.5,503.5 851.7,500.4 853.7,498.4 853.0,496.0 853.8,500.6 853.1,503.1 854.3,508.3 854.0,512.0 854.9,506.9 854.3,502.2 855.3,498.6 855.2,501.5 856.3,506.1 855.9,509.5 856.9,513.1 857.0,517.6 856.4,520.8 858.3,522.3 856.3,524.6 859.9,527.4 858.7,530.0 860.3,533.4 862.2,532.1 860.7,527.5 862.0,526.0 863.5,523.1 862.2,526.3 866.6,528.1 864.9,532.2 866.8,534.0 866.9,531.4 869.2,528.8 868.5,532.3 871.1,535.2 870.1,538.3 873.0,537.3 874.2,534.8 875.5,537.0 873.6,540.0 876.5,542.7 873.4,546.4 877.9,548.2 875.4,551.7 876.6,553.6 878.3,555.4 874.9,558.0 878.9,560.4 875.8,564.3 879.3,565.0 878.5,568.0 878.2,570.4 881.1,572.5 880.5,575.0 882.5,573.0 881.8,574.9 884.4,577.3 882.8,580.7 884.6,583.0 883.7,580.6 886.6,577.5 884.9,575.2 886.5,572.0 887.7,569.7 886.9,565.9 888.5,564.0 889.7,561.6 888.1,559.6 890.4,557.8 889.0,554.3 890.0,552.0 892.4,549.7 891.1,546.2 893.8,545.9 893.8,543.0 894.4,539.4 897.0,537.8 897.0,541.0 900.0,543.1 897.9,546.1 901.1,547.2 899.1,550.6 901.5,553.0 899.8,550.6 903.6,548.1 900.9,546.4 904.2,542.8 901.7,541.4 905.4,539.9 902.7,535.4 904.4,534.0 906.9,532.9 905.9,535.0 909.0,538.7 906.8,540.1 908.5,543.2 908.2,540.5 910.4,538.6 909.4,534.7 911.5,531.8 910.4,530.0 911.8,527.2 912.4,529.2 915.4,531.0 914.6,528.6 917.5,526.3 915.6,523.4 919.2,520.5 916.0,518.9 919.4,516.5 917.4,513.9 919.1,511.0 921.5,508.1 918.4,505.3 921.6,502.9 924.3,501.7 923.4,498.3 926.5,496.1 924.6,498.7 929.4,501.4 925.0,504.1 930.0,506.0 926.0,510.0 928.9,512.7 929.6,516.8 929.0,519.6 930.2,523.9 929.5,526.9 930.5,530.6 929.8,535.0 931.3,538.3 930.5,543.0 931.5,545.5 930.9,549.0 932.1,552.6 931.9,557.0 932.5,553.2 932.2,550.0 933.2,545.5 932.6,543.2 933.6,539.8 933.1,534.5 934.2,531.4 933.8,528.4 934.7,523.8 934.7,520.9 934.8,517.0 935.5,512.3 935.1,509.0 936.0,505.0 935.8,499.8 936.3,496.4 936.9,491.5 936.3,487.5 937.6,483.4 937.1,480.0 936.6,475.5 937.7,471.0 936.9,467.2 938.0,462.5 937.0,458.8 937.6,455.0 939.2,453.5 936.7,449.5 940.3,448.2 937.8,444.2 941.7,442.5 937.9,439.4 942.7,439.1 940.9,435.4 940.7,430.8 942.1,427.8 941.7,422.5 942.5,419.0 942.4,423.4 943.3,427.7 943.0,432.5 943.5,436.0 943.3,431.8 944.6,427.7 943.9,423.2 945.2,419.6 944.2,415.4 945.0,412.0 944.7,414.9 945.9,420.0 944.9,423.3 945.9,427.4 945.4,430.1 946.3,433.8 946.0,438.0 946.3,433.7 945.7,430.4 946.5,426.8 945.9,423.1 946.7,419.2 946.2,416.3 946.8,413.0 946.6,409.2 947.1,413.8 946.7,417.5 947.4,420.5 947.1,424.5 947.6,428.6 947.4,432.0 948.1,436.9 948.0,440.0 948.3,437.0 948.1,432.3 948.7,428.5 948.2,424.5 949.4,419.8 948.4,415.6 949.4,411.9 948.9,409.0 949.7,404.6 949.5,400.8 949.9,404.7 949.5,407.5 950.1,410.7 949.7,416.1 950.4,419.5 949.8,421.8 950.4,425.3 950.1,430.1 950.7,432.6 950.4,436.5 950.7,440.5 950.5,437.0 951.3,432.2 950.8,428.7 951.6,424.9 951.3,421.9 952.0,417.3 951.5,414.7 952.0,410.0 951.9,413.0 952.7,417.5 952.4,421.3 953.0,424.2 952.8,428.3 953.5,431.9 953.5,436.0 953.9,432.9 953.7,428.2 954.3,423.9 954.0,419.8 954.7,416.4 954.4,411.4 955.2,408.2 955.0,404.0 955.7,408.5 955.1,412.1 955.8,415.6 955.3,419.5 956.3,422.7 955.8,427.9 956.4,430.8 956.4,434.8 956.8,430.9 956.4,427.7 957.0,424.3 956.6,419.9 957.4,416.5 956.8,412.4 957.5,410.0 957.2,405.0 957.5,402.0 957.5,406.2 958.3,409.6 958.1,413.1 958.9,415.6 959.0,420.0 959.4,416.4 959.2,411.8 960.1,407.1 959.8,403.7 960.4,399.9 960.5,395.0 960.5,391.5 961.8,389.4 961.6,392.9 962.3,396.9 961.9,400.8 962.6,405.8 962.2,409.0 962.9,412.7 962.5,417.1 963.2,420.8 963.0,425.0 963.4,421.1 962.9,418.2 963.7,413.6 963.3,409.8 964.0,407.3 963.5,403.3 964.1,399.2 963.9,394.8 964.2,392.0 965.4,387.7 965.2,391.4 965.9,395.1 965.4,399.5 966.2,402.5 965.6,407.7 966.3,411.7 965.6,414.4 966.6,419.5 965.9,423.2 966.5,427.0 966.4,424.0 967.1,419.4 966.7,416.8 967.5,413.1 967.2,408.2 968.0,404.8 967.4,402.1 968.0,398.0 967.8,402.6 968.8,405.6 968.3,409.5 969.1,412.5 968.6,417.3 969.4,421.2 969.2,425.3 969.5,428.3 969.3,425.1 970.0,420.6 969.6,417.6 970.3,414.5 969.7,410.5 970.4,405.9 970.3,402.7 970.7,405.9 970.6,410.5 971.7,413.3 971.0,417.7 972.0,421.1 972.0,425.0 972.6,420.2 972.1,417.3 973.1,412.1 973.0,408.0 974.4,406.5 974.7,410.4 974.3,414.6 974.9,416.8 974.4,421.4 975.3,424.8 974.5,427.6 975.4,431.3 975.2,435.4 975.2,439.9 976.2,442.9 975.7,447.0 976.4,449.8 976.1,454.5 977.0,456.6 976.9,461.0 978.1,458.0 976.3,455.3 979.3,452.1 978.5,450.0 977.5,447.9 980.2,444.7 978.4,443.2 980.1,440.3 983.7,440.1 983.1,443.2 985.4,445.1 983.3,447.6 987.0,449.2 983.1,452.5 987.3,454.1 984.7,456.5 987.7,458.3 986.7,461.6 985.9,464.9 990.7,465.4 990.4,469.2 991.2,465.5 990.1,461.9 991.4,458.7 990.4,453.3 991.5,451.3 990.6,446.0 991.9,442.8 991.2,438.9 991.6,435.4 993.0,432.4 990.9,429.7 994.3,428.4 992.1,424.9 995.7,423.1 993.2,420.7 994.5,418.8 994.4,422.2 995.3,427.3 995.1,431.0 996.1,436.6 996.0,440.0 995.7,444.1 999.0,445.2 997.8,449.0 998.3,444.7 997.7,441.2 999.0,437.3 998.5,434.0 1000.0,432.0 1003.7,435.0 1002.2,438.7 1002.0,442.9 1003.0,446.3 1002.1,450.0 1003.6,453.1 1002.8,457.1 1003.9,460.3 1003.2,464.3 1003.8,468.1 1004.3,471.9 1003.6,475.4 1004.4,478.6 1004.1,482.7 1004.8,486.5 1004.1,490.7 1005.0,493.0 1004.4,497.6 1005.2,500.2 1005.0,504.5 1005.2,509.1 1005.9,511.7 1005.8,516.0 1006.7,519.5 1006.3,524.9 1007.5,528.5 1007.4,531.8 1008.6,530.2 1006.9,526.5 1009.9,524.7 1007.5,520.9 1010.0,520.2 1008.3,516.8 1009.9,514.1 1009.9,517.0 1012.4,519.0 1010.9,521.6 1014.5,522.9 1014.0,525.8 1013.5,529.7 1014.7,532.6 1013.8,538.1 1015.0,541.0 1014.3,544.5 1014.8,548.7 1016.6,550.9 1015.6,553.1 1018.0,555.0 1018.1,557.9 1019.8,555.7 1018.4,552.7 1021.2,549.7 1019.7,547.6 1022.6,544.8 1022.1,542.1 1022.2,537.4 1023.0,534.6 1022.7,531.1 1023.7,527.1 1023.4,521.8 1024.3,519.3 1024.0,515.3 1024.6,510.8 1024.6,514.3 1025.8,518.1 1025.1,522.8 1026.5,525.4 1026.5,530.0 1025.1,533.3 1029.4,535.3 1027.0,538.9 1029.5,541.6 1029.5,538.5 1030.5,533.0 1030.1,529.3 1031.2,525.6 1030.8,521.4 1031.6,517.3 1031.5,513.0 1032.0,510.0 1032.7,505.7 1032.3,502.4 1033.7,498.1 1033.2,494.5 1034.2,491.2 1034.3,486.6 1036.9,488.9 1034.6,493.5 1037.0,495.0 1040.3,497.2 1036.5,500.5 1039.9,502.4 1039.6,498.1 1040.8,495.0 1039.9,491.2 1041.3,486.4 1040.3,483.6 1041.3,478.7 1040.5,476.4 1041.7,471.1 1041.5,468.1 1041.4,464.1 1041.9,461.2 1041.6,457.0 1042.1,453.4 1041.7,449.1 1042.4,445.3 1041.8,442.4 1042.3,438.7 1043.1,433.9 1042.7,429.6 1043.6,425.2 1043.6,421.2 1044.2,424.9 1044.0,428.5 1044.7,432.7 1044.5,435.7 1045.0,440.0 1046.3,442.1 1046.4,446.3 1047.0,441.5 1047.0,436.1 1047.6,432.0 1048.6,430.3 1048.8,427.0 1049.4,431.6 1049.3,435.6 1050.0,440.0 1051.5,443.0 1049.5,445.8 1051.9,446.6 1051.3,450.0 1051.2,453.3 1051.8,457.7 1051.4,462.1 1052.0,466.3 1051.7,469.4 1052.0,473.2 1052.8,470.9 1055.4,469.0 1055.7,465.5 1055.2,460.8 1055.6,455.8 1055.4,451.8 1055.9,449.8 1059.2,448.4 1060.3,451.7 1063.0,451.6 1063.5,455.0 1063.3,459.2 1064.0,461.8 1063.2,466.7 1064.4,469.4 1064.0,474.0 1063.0,476.4 1067.5,477.3 1064.2,481.2 1068.8,481.9 1068.4,485.5 1067.8,488.6 1070.2,490.8 1069.7,487.7 1071.1,482.9 1070.1,480.0 1071.2,476.4 1070.5,472.2 1071.0,468.1 1074.4,465.6 1071.3,462.2 1073.3,460.7 1071.4,462.9 1075.7,466.1 1072.8,468.6 1077.2,470.6 1073.1,474.0 1076.9,476.0 1075.5,478.0 1075.3,481.9 1078.5,483.7 1077.7,487.1 1078.4,483.3 1077.9,480.4 1079.0,476.7 1078.6,471.9 1079.6,469.0 1079.3,465.5 1079.9,461.6 1080.3,458.6 1079.6,454.2 1081.0,450.9 1079.9,446.9 1080.9,443.4 1079.9,439.3 1080.7,435.4 1084.3,433.5 1082.5,436.2 1087.2,438.4 1083.6,440.9 1087.9,442.4 1083.9,446.2 1086.4,448.5 1088.4,450.5 1085.6,453.0 1089.9,455.7 1085.2,458.5 1090.7,459.8 1086.1,463.3 1088.9,466.0 1088.4,462.3 1089.8,459.1 1088.6,455.3 1089.6,450.3 1088.9,447.6 1090.0,444.3 1089.5,440.0 1089.3,436.3 1090.4,431.3 1089.8,427.2 1090.6,422.3 1090.5,419.0 1090.0,416.4 1092.0,414.2 1090.6,412.0 1091.4,409.2 1093.5,406.4 1093.8,404.3 1093.3,402.1 1095.7,400.6 1095.1,398.0 1096.6,395.1 1096.4,399.2 1097.2,402.4 1096.6,405.8 1097.6,409.7 1096.8,414.0 1097.7,416.9 1097.1,420.6 1097.5,425.0 1097.3,420.8 1098.3,418.2 1097.7,413.2 1098.5,409.5 1098.0,406.3 1098.5,402.0 1098.3,406.5 1099.4,409.7 1098.4,413.2 1099.6,418.0 1098.7,420.6 1099.8,425.0 1099.1,428.3 1100.2,432.2 1099.6,435.6 1100.6,440.9 1099.6,443.7 1100.4,447.9 1100.0,443.8 1101.1,440.0 1100.3,436.2 1101.1,432.4 1100.7,428.8 1101.3,424.7 1100.8,421.7 1101.6,418.0 1100.9,414.3 1101.6,410.1 1101.3,406.4 1101.6,402.5 1101.5,406.2 1102.3,410.3 1101.9,414.0 1102.6,418.0 1102.4,422.2 1102.9,425.9 1103.0,430.0 1102.6,433.0 1105.5,435.0 1104.5,438.0 1104.9,434.2 1104.6,429.8 1105.3,426.2 1105.1,422.4 1105.8,417.6 1105.5,414.8 1106.0,410.0 1106.0,413.9 1106.7,418.2 1106.4,420.6 1107.3,424.5 1107.0,429.2 1107.5,432.0 1107.5,429.1 1108.5,424.9 1108.2,420.3 1109.1,417.6 1108.5,412.7 1110.1,409.8 1109.7,405.7 1110.5,409.2 1109.5,413.6 1111.0,416.9 1110.0,420.4 1110.9,424.1 1110.4,428.5 1111.0,432.0 1110.7,428.3 1112.1,423.6 1111.4,419.3 1112.6,416.1 1112.3,412.0 1113.5,413.0 1114.2,417.5 1113.5,420.7 1114.6,424.8 1113.9,427.6 1114.9,431.4 1114.7,436.0 1115.9,439.8 1116.4,435.6 1116.3,432.2 1116.9,428.7 1116.5,425.3 1117.8,420.9 1117.5,418.0 1118.3,421.7 1117.4,425.7 1118.7,428.7 1118.1,433.1 1119.3,436.3 1119.0,440.0 1119.9,435.4 1119.2,432.8 1120.1,429.4 1119.6,425.9 1120.6,420.7 1120.2,418.0 1121.1,414.1 1120.4,410.6 1121.2,406.5 1120.9,411.0 1121.9,413.4 1121.2,418.0 1122.0,421.1 1121.5,425.9 1122.5,429.3 1121.6,432.7 1122.4,435.9 1121.8,441.2 1122.8,443.4 1122.5,447.9 1123.2,444.3 1122.5,440.1 1123.3,436.0 1122.9,433.5 1123.7,428.8 1123.5,425.0 1123.9,428.8 1123.5,432.3 1124.3,436.5 1124.1,441.3 1124.5,445.0 1124.9,448.5 1124.5,451.6 1125.1,455.4 1124.8,459.0 1125.3,464.1 1124.8,466.7 1125.6,471.1 1125.3,474.6 1126.0,477.8 1125.2,481.7 1126.6,485.6 1125.3,489.9 1126.1,492.8 1125.7,489.1 1127.0,485.4 1126.0,481.4 1127.3,477.1 1126.4,473.2 1127.2,470.0 1127.9,467.1 1127.2,463.5 1128.4,459.6 1127.5,455.8 1128.2,451.8 1128.9,447.4 1128.0,444.1 1129.2,439.8 1128.5,435.2 1129.7,431.5 1128.5,427.2 1130.0,424.5 1128.9,419.1 1129.6,416.0 1133.1,413.0 1131.0,410.0 1133.4,412.2 1130.1,415.4 1132.0,418.0 1130.5,415.6 1135.3,412.8 1131.5,409.7 1133.3,408.4 1130.8,410.8 1136.9,412.7 1134.5,416.0 1136.3,412.0 1134.7,416.2 1137.5,418.0 1138.1,421.0 1137.4,425.5 1138.8,429.8 1137.9,432.4 1139.0,435.6 1138.8,440.0 1138.6,444.5 1139.6,447.8 1139.1,452.6 1139.9,455.2 1139.8,460.0 1140.0,465.1 1140.7,469.1 1140.8,473.0 1141.0,478.0 1141.8,483.0 1143.6,479.0 1143.3,475.5 1145.3,474.5"/>
<polyline stroke-width="5.4" points="524.9,-50 524.9,104 526.8,-50 528.9,-50 528.6,166 530.2,112 531.3,190 532.3,245 532.6,255 533.4,270 534.2,305 535,330 535.5,350 535,372 537,358 538,380 540,358 541.6,360 542,384 542.9,400 543.5,430 543.8,470 544.1,494.5 545,508 547,500 549.5,504 550,512 552,522.3 554.4,548.5 556,563.2 558,560 560.1,572.5 563.4,560.8 566.2,571.6 569.1,545.2 573.2,536.8 575.7,545.2 577.5,540 579.4,529.4 580.5,545 582.2,561.6 585.5,555 587.1,571 590.5,566.3 595.5,581.5 597.5,578 599.5,573 601,585 602.6,599.2 605,592 607,590.3 610.3,594.1 612.7,617 615.2,623.5 619.2,626.8 620.9,635.8 625,638.2 629.1,639.8 632.3,642.6 638.1,642 641.3,634.1 645.4,630.9 649.5,627.6 652,618.6 657.7,613.7 659.3,595.7 662.6,589.5 665,592.4 668.3,589.2 668.3,566.3 670.8,552.9 674.8,558.3 676.5,545 677.2,541.4 680,532 682.5,538 685.3,541.8 687.8,513.6 691.9,505.4 693.5,484.2 696.8,480.9 696.8,456.4 696.8,433 698.5,425 700.6,421 702,435 703.5,449 705,423 708.2,436.3 710.4,405 712,420 714,429.4 715.5,400 716.9,374.7 718.5,385 720.5,384 722.5,415 724.1,434.3 725.2,400 726.2,381.3 727.3,395 728.4,408.5 730.3,387 731.5,410 733.1,437.6 734.5,425 735.7,387 736.7,360 740,330 741.8,300 741.9,290 743.4,262 744.7,250 744.7,140 745.5,113.2 746.8,150 748.2,125 749.3,182.7 750.6,103 751.5,140 752.4,-50 754,-50 754.2,146 755.6,-50 756,-50 756.2,100 757.8,192.5 759.3,112 761,130 762.5,100 763.6,81 764.5,140 763,150 765,180 765.5,200 766.7,217 767.3,273.8 768.8,230 771,217.7 771.5,322 772.8,232 774,241 774.5,325 775,348.5 775.8,255 777,265 777.8,325 778.6,240 779.5,300 780.8,219.5 782,290 783.2,327 784.4,247.7 785.5,300 786.5,256 787.5,262 788.3,301 789.5,255 790.5,250 791.5,305 792.5,290 793.6,313 795,342 797,318 798.5,345 800,322 801.9,350 803.1,365 803.1,379 803.5,393 805,383 805.5,405 807,385 807.8,415 809,388 809.6,422.5 811,400 812.9,394 814,410 815.4,388.6 817,400 818.5,398 820.3,413.7 821.9,388.6 824,392 826.8,396 829,410 830.9,404 831.2,426.7 833.5,418 835.8,413 836.6,434 838,428 839.9,425.4 841.5,440 842.3,455 843,462 845,458 846.5,472 848.5,460 850.5,473 851.3,489 851,509 853,496 854,512 855.3,498.6 857,517.6 858.7,530 860.3,533.4 862,526 863.5,523.1 866.8,534 869.2,528.8 870.1,538.3 874.2,534.8 876.6,553.6 878.5,568 880.5,575 882.5,573 884.6,583 886.5,572 888.5,564 890,552 893.8,543 897,537.8 901.5,553 904.4,534 906.9,532.9 908.5,543.2 911.8,527.2 915.4,531 919.1,511 921.6,502.9 926.5,496.1 928.9,512.7 931.9,557 934.7,520.9 936.3,496.4 937.1,480 937.6,455 940.9,435.4 942.5,419 943.5,436 945,412 946,438 946.6,409.2 948,440 949.5,400.8 950.7,440.5 952,410 953.5,436 955,404 956.4,434.8 957.5,402 959,420 960.5,395 961.8,389.4 963,425 964.2,392 965.4,387.7 966.5,427 968,398 969.5,428.3 970.3,402.7 972,425 973,408 974.4,406.5 975.2,435.4 976.9,461 978.5,450 980.1,440.3 983.7,440.1 986.7,461.6 990.4,469.2 991.6,435.4 994.5,418.8 996,440 997.8,449 998.5,434 1000,432 1002.2,438.7 1003.8,468.1 1005,504.5 1007.4,531.8 1009.9,514.1 1014,525.8 1014.8,548.7 1018.1,557.9 1022.1,542.1 1024.6,510.8 1026.5,530 1029.5,541.6 1032,510 1034.3,486.6 1037,495 1039.9,502.4 1041.5,468.1 1042.3,438.7 1043.6,421.2 1045,440 1046.4,446.3 1047.6,432 1048.8,427 1050,440 1051.3,450 1052,473.2 1055.4,469 1055.4,451.8 1059.2,448.4 1063.5,455 1064,474 1068.4,485.5 1070.2,490.8 1071,468.1 1073.3,460.7 1075.5,478 1077.7,487.1 1079.9,461.6 1080.7,435.4 1084.3,433.5 1086.4,448.5 1088.9,466 1089.5,440 1090.5,419 1091.4,409.2 1093.8,404.3 1096.6,395.1 1097.5,425 1098.5,402 1100.4,447.9 1101.6,402.5 1103,430 1104.5,438 1106,410 1107.5,432 1109.7,405.7 1111,432 1112.3,412 1113.5,413 1114.7,436 1115.9,439.8 1117.5,418 1119,440 1121.2,406.5 1122.5,447.9 1123.5,425 1124.5,445 1126.1,492.8 1127.2,470 1128.2,451.8 1129.6,416 1131,410 1132,418 1133.3,408.4 1134.5,416 1136.3,412 1137.5,418 1138.8,440 1139.8,460 1140.8,473 1141.8,483 1143.6,479 1145.3,474.5"/>
</g>
<line x1="832" y1="105.8" x2="871.5" y2="105.8" stroke="#03355f" stroke-width="4.5" stroke-linecap="round"/>
<text transform="translate(875.3 113.1) scale(1 1.08)" class="t">PEG</text>
<text transform="translate(875.3 139.1) scale(1 1.08)" class="t">P/E divided by 3y EPS CAGR</text>
<text transform="translate(146.0 210.0) scale(1 1.08)" class="o">3.7</text>
<g clip-path="url(#k9)"><text transform="translate(1156.2 495.8) scale(1 1.08)" class="o">1.7</text></g>
</svg>
</body></html>
